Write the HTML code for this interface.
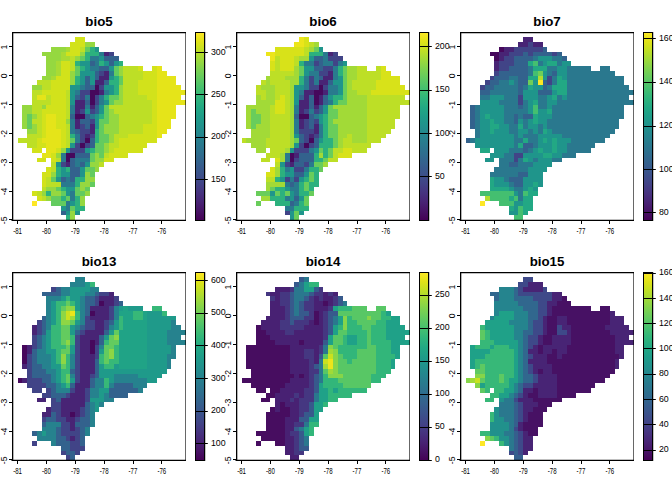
<!DOCTYPE html><html><head><meta charset="utf-8"><style>html,body{margin:0;padding:0;background:#fff;}svg{display:block;}text{font-family:"Liberation Sans",Arial,sans-serif;}</style></head><body>
<svg width="672" height="480" viewBox="0 0 672 480">
<rect width="672" height="480" fill="#fff"/>
<defs><linearGradient id="vg" x1="0" y1="0" x2="0" y2="1"><stop offset="0.000" stop-color="#fde725"/><stop offset="0.050" stop-color="#dfe318"/><stop offset="0.100" stop-color="#bddf26"/><stop offset="0.150" stop-color="#9bd93c"/><stop offset="0.200" stop-color="#7ad151"/><stop offset="0.250" stop-color="#5ec962"/><stop offset="0.300" stop-color="#44bf70"/><stop offset="0.350" stop-color="#2fb47c"/><stop offset="0.400" stop-color="#22a884"/><stop offset="0.450" stop-color="#1e9c89"/><stop offset="0.500" stop-color="#21918c"/><stop offset="0.550" stop-color="#25848e"/><stop offset="0.600" stop-color="#2a788e"/><stop offset="0.650" stop-color="#2f6c8e"/><stop offset="0.700" stop-color="#355f8d"/><stop offset="0.750" stop-color="#3b528b"/><stop offset="0.800" stop-color="#414487"/><stop offset="0.850" stop-color="#463480"/><stop offset="0.900" stop-color="#482475"/><stop offset="0.950" stop-color="#471365"/><stop offset="1.000" stop-color="#440154"/></linearGradient></defs>
<g transform="translate(0,0)">
<path fill="#d2e21b" d="M75 37h5v5h-5zM80 37h5v5h-5zM70 42h5v5h-5zM75 42h5v5h-5zM80 42h5v5h-5zM70 47h5v5h-5zM75 47h5v5h-5zM66 52h4v4h-4zM70 52h5v4h-5zM75 52h5v4h-5zM61 61h5v5h-5zM66 61h4v5h-4zM61 66h5v5h-5zM66 66h4v5h-4zM138 66h5v5h-5zM152 66h5v5h-5zM61 71h5v5h-5zM66 71h4v5h-4zM143 71h4v5h-4zM147 71h5v5h-5zM152 71h5v5h-5zM56 76h5v4h-5zM61 76h5v4h-5zM66 76h4v4h-4zM143 76h4v4h-4zM147 76h5v4h-5zM152 76h5v4h-5zM51 80h5v5h-5zM56 80h5v5h-5zM61 80h5v5h-5zM66 80h4v5h-4zM138 80h5v5h-5zM143 80h4v5h-4zM147 80h5v5h-5zM152 80h5v5h-5zM51 85h5v5h-5zM56 85h5v5h-5zM61 85h5v5h-5zM66 85h4v5h-4zM138 85h5v5h-5zM143 85h4v5h-4zM147 85h5v5h-5zM152 85h5v5h-5zM42 90h4v5h-4zM46 90h5v5h-5zM51 90h5v5h-5zM56 90h5v5h-5zM61 90h5v5h-5zM138 90h5v5h-5zM143 90h4v5h-4zM147 90h5v5h-5zM152 90h5v5h-5zM51 95h5v5h-5zM56 95h5v5h-5zM61 95h5v5h-5zM147 95h5v5h-5zM152 95h5v5h-5zM51 100h5v5h-5zM56 100h5v5h-5zM61 100h5v5h-5zM152 100h5v5h-5zM46 105h5v4h-5zM51 105h5v4h-5zM56 105h5v4h-5zM61 105h5v4h-5zM152 105h5v4h-5zM42 109h4v5h-4zM46 109h5v5h-5zM51 109h5v5h-5zM56 109h5v5h-5zM61 109h5v5h-5zM152 109h5v5h-5zM42 114h4v5h-4zM56 114h5v5h-5zM61 114h5v5h-5zM152 114h5v5h-5zM42 119h4v5h-4zM56 119h5v5h-5zM61 119h5v5h-5zM152 119h5v5h-5zM42 124h4v5h-4zM56 124h5v5h-5zM61 124h5v5h-5zM143 124h4v5h-4zM147 124h5v5h-5zM152 124h5v5h-5zM42 129h4v5h-4zM61 129h5v5h-5zM143 129h4v5h-4zM147 129h5v5h-5zM152 129h5v5h-5zM42 134h4v4h-4zM61 134h5v4h-5zM128 134h5v4h-5zM133 134h5v4h-5zM138 134h5v4h-5zM143 134h4v4h-4zM147 134h5v4h-5zM152 134h5v4h-5zM37 138h5v5h-5zM61 138h5v5h-5zM119 138h4v5h-4zM123 138h5v5h-5zM128 138h5v5h-5zM133 138h5v5h-5zM138 138h5v5h-5zM143 138h4v5h-4zM147 138h5v5h-5zM152 138h5v5h-5zM37 143h5v5h-5zM42 143h4v5h-4zM61 143h5v5h-5zM119 143h4v5h-4zM123 143h5v5h-5zM128 143h5v5h-5zM133 143h5v5h-5zM138 143h5v5h-5zM143 143h4v5h-4zM32 148h5v5h-5zM37 148h5v5h-5zM56 148h5v5h-5zM114 148h5v5h-5zM119 148h4v5h-4zM123 148h5v5h-5zM128 148h5v5h-5zM133 148h5v5h-5zM138 148h5v5h-5zM51 153h5v5h-5zM109 153h5v5h-5zM114 153h5v5h-5zM119 153h4v5h-4zM123 153h5v5h-5zM37 158h5v4h-5zM42 158h4v4h-4zM51 158h5v4h-5zM104 158h5v4h-5zM109 158h5v4h-5zM46 167h5v5h-5zM42 172h4v5h-4zM46 172h5v5h-5zM42 177h4v5h-4zM42 182h4v5h-4zM32 191h5v5h-5zM37 196h5v5h-5z"/>
<path fill="#95d840" d="M85 42h5v5h-5zM90 42h5v5h-5zM51 47h5v5h-5zM56 47h5v5h-5zM61 47h5v5h-5zM42 52h4v4h-4zM46 52h5v4h-5zM51 52h5v4h-5zM56 52h5v4h-5zM80 52h5v4h-5zM46 56h5v5h-5zM51 56h5v5h-5zM56 56h5v5h-5zM75 56h5v5h-5zM46 61h5v5h-5zM51 61h5v5h-5zM46 66h5v5h-5zM51 66h5v5h-5zM119 66h4v5h-4zM46 71h5v5h-5zM51 71h5v5h-5zM70 71h5v5h-5zM119 71h4v5h-4zM42 76h4v4h-4zM46 76h5v4h-5zM70 76h5v4h-5zM70 80h5v5h-5zM32 85h5v5h-5zM37 85h5v5h-5zM119 85h4v5h-4zM119 90h4v5h-4zM119 95h4v5h-4zM114 100h5v5h-5zM119 100h4v5h-4zM22 105h5v4h-5zM27 105h5v4h-5zM42 105h4v4h-4zM22 109h5v5h-5zM27 109h5v5h-5zM109 109h5v5h-5zM22 114h5v5h-5zM32 114h5v5h-5zM109 114h5v5h-5zM114 114h5v5h-5zM22 119h5v5h-5zM66 119h4v5h-4zM109 119h5v5h-5zM114 119h5v5h-5zM22 124h5v5h-5zM32 124h5v5h-5zM104 124h5v5h-5zM109 124h5v5h-5zM114 124h5v5h-5zM27 129h5v5h-5zM32 129h5v5h-5zM104 129h5v5h-5zM109 129h5v5h-5zM114 129h5v5h-5zM109 134h5v4h-5zM109 138h5v5h-5zM104 143h5v5h-5zM61 148h5v5h-5zM104 148h5v5h-5zM56 153h5v5h-5zM95 153h4v5h-4zM95 158h4v4h-4zM99 158h5v4h-5zM90 162h5v5h-5zM95 162h4v5h-4zM95 167h4v5h-4zM51 172h5v5h-5zM85 172h5v5h-5zM85 177h5v5h-5zM90 177h5v5h-5zM80 182h5v5h-5zM85 182h5v5h-5zM46 187h5v4h-5zM51 187h5v4h-5zM80 187h5v4h-5zM42 191h4v5h-4zM51 191h5v5h-5zM56 191h5v5h-5zM85 191h5v5h-5zM46 196h5v5h-5zM80 196h5v5h-5zM80 201h5v5h-5zM70 211h5v4h-5zM70 215h5v5h-5z"/>
<path fill="#a8db34" d="M66 47h4v5h-4zM61 52h5v4h-5zM61 56h5v5h-5zM66 56h4v5h-4zM56 61h5v5h-5zM56 66h5v5h-5zM56 71h5v5h-5zM51 76h5v4h-5z"/>
<path fill="#bddf26" d="M80 47h5v5h-5zM70 56h5v5h-5zM70 61h5v5h-5zM70 66h5v5h-5zM123 66h5v5h-5zM128 66h5v5h-5zM133 66h5v5h-5zM123 71h5v5h-5zM128 71h5v5h-5zM133 71h5v5h-5zM138 71h5v5h-5zM123 76h5v4h-5zM128 76h5v4h-5zM133 76h5v4h-5zM138 76h5v4h-5zM37 80h5v5h-5zM42 80h4v5h-4zM46 80h5v5h-5zM123 80h5v5h-5zM128 80h5v5h-5zM133 80h5v5h-5zM42 85h4v5h-4zM46 85h5v5h-5zM123 85h5v5h-5zM128 85h5v5h-5zM133 85h5v5h-5zM32 90h5v5h-5zM37 90h5v5h-5zM66 90h4v5h-4zM123 90h5v5h-5zM128 90h5v5h-5zM133 90h5v5h-5zM32 95h5v5h-5zM46 95h5v5h-5zM66 95h4v5h-4zM123 95h5v5h-5zM128 95h5v5h-5zM133 95h5v5h-5zM138 95h5v5h-5zM143 95h4v5h-4zM32 100h5v5h-5zM37 100h5v5h-5zM42 100h4v5h-4zM46 100h5v5h-5zM66 100h4v5h-4zM123 100h5v5h-5zM128 100h5v5h-5zM133 100h5v5h-5zM138 100h5v5h-5zM143 100h4v5h-4zM147 100h5v5h-5zM32 105h5v4h-5zM37 105h5v4h-5zM66 105h4v4h-4zM109 105h5v4h-5zM114 105h5v4h-5zM119 105h4v4h-4zM123 105h5v4h-5zM128 105h5v4h-5zM133 105h5v4h-5zM138 105h5v4h-5zM143 105h4v4h-4zM147 105h5v4h-5zM32 109h5v5h-5zM37 109h5v5h-5zM66 109h4v5h-4zM114 109h5v5h-5zM119 109h4v5h-4zM123 109h5v5h-5zM128 109h5v5h-5zM133 109h5v5h-5zM138 109h5v5h-5zM143 109h4v5h-4zM147 109h5v5h-5zM37 114h5v5h-5zM66 114h4v5h-4zM119 114h4v5h-4zM123 114h5v5h-5zM128 114h5v5h-5zM133 114h5v5h-5zM138 114h5v5h-5zM143 114h4v5h-4zM147 114h5v5h-5zM32 119h5v5h-5zM37 119h5v5h-5zM119 119h4v5h-4zM123 119h5v5h-5zM128 119h5v5h-5zM133 119h5v5h-5zM138 119h5v5h-5zM143 119h4v5h-4zM147 119h5v5h-5zM37 124h5v5h-5zM66 124h4v5h-4zM119 124h4v5h-4zM123 124h5v5h-5zM128 124h5v5h-5zM133 124h5v5h-5zM138 124h5v5h-5zM37 129h5v5h-5zM66 129h4v5h-4zM119 129h4v5h-4zM123 129h5v5h-5zM128 129h5v5h-5zM133 129h5v5h-5zM138 129h5v5h-5zM27 134h5v4h-5zM32 134h5v4h-5zM37 134h5v4h-5zM66 134h4v4h-4zM114 134h5v4h-5zM119 134h4v4h-4zM123 134h5v4h-5zM18 138h4v5h-4zM22 138h5v5h-5zM27 138h5v5h-5zM32 138h5v5h-5zM66 138h4v5h-4zM114 138h5v5h-5zM27 143h5v5h-5zM32 143h5v5h-5zM66 143h4v5h-4zM109 143h5v5h-5zM114 143h5v5h-5zM109 148h5v5h-5zM104 153h5v5h-5zM56 158h5v4h-5zM51 162h5v5h-5zM99 162h5v5h-5zM51 167h5v5h-5zM46 177h5v5h-5zM46 182h5v5h-5zM51 182h5v5h-5zM56 182h5v5h-5zM42 187h4v4h-4zM37 191h5v5h-5zM42 196h4v5h-4z"/>
<path fill="#63cb5f" d="M85 47h5v5h-5zM80 56h5v5h-5zM75 66h5v5h-5zM114 66h5v5h-5zM75 71h5v5h-5zM114 71h5v5h-5zM119 76h4v4h-4zM119 80h4v5h-4zM109 95h5v5h-5zM114 95h5v5h-5zM109 100h5v5h-5zM104 105h5v4h-5zM104 109h5v5h-5zM27 114h5v5h-5zM104 114h5v5h-5zM27 119h5v5h-5zM99 119h5v5h-5zM104 119h5v5h-5zM27 124h5v5h-5zM99 124h5v5h-5zM99 129h5v5h-5zM99 134h5v4h-5zM104 134h5v4h-5zM70 138h5v5h-5zM99 138h5v5h-5zM104 138h5v5h-5zM95 143h4v5h-4zM99 143h5v5h-5zM95 148h4v5h-4zM99 148h5v5h-5zM90 153h5v5h-5zM99 153h5v5h-5zM90 158h5v4h-5zM85 167h5v5h-5zM90 167h5v5h-5zM90 172h5v5h-5zM51 177h5v5h-5zM90 182h5v5h-5zM56 187h5v4h-5zM75 187h5v4h-5zM85 187h5v4h-5zM61 191h5v5h-5zM75 191h5v5h-5zM80 191h5v5h-5zM51 196h5v5h-5zM56 196h5v5h-5zM66 196h4v5h-4zM51 201h5v5h-5zM56 201h5v5h-5zM61 201h5v5h-5zM70 206h5v5h-5z"/>
<path fill="#2cb17e" d="M90 47h5v5h-5zM85 52h5v4h-5zM90 52h5v4h-5zM95 52h4v4h-4zM85 56h5v5h-5zM75 61h5v5h-5zM99 61h5v5h-5zM119 61h4v5h-4zM80 66h5v5h-5zM75 76h5v4h-5zM114 76h5v4h-5zM75 80h5v5h-5zM109 80h5v5h-5zM114 80h5v5h-5zM114 85h5v5h-5zM114 90h5v5h-5zM104 95h5v5h-5zM99 114h5v5h-5zM95 129h4v5h-4zM70 134h5v4h-5zM95 134h4v4h-4zM95 138h4v5h-4zM90 148h5v5h-5zM56 167h5v5h-5zM66 167h4v5h-4zM56 172h5v5h-5zM75 177h5v5h-5zM80 177h5v5h-5zM75 182h5v5h-5zM61 187h5v4h-5zM46 191h5v5h-5zM61 196h5v5h-5zM75 196h5v5h-5zM75 201h5v5h-5zM75 206h5v5h-5zM80 206h5v5h-5zM66 215h4v5h-4z"/>
<path fill="#1f958b" d="M95 47h4v5h-4zM99 56h5v5h-5zM80 61h5v5h-5zM85 61h5v5h-5zM104 61h5v5h-5zM114 61h5v5h-5zM85 66h5v5h-5zM109 66h5v5h-5zM80 71h5v5h-5zM85 71h5v5h-5zM90 71h5v5h-5zM80 76h5v4h-5zM90 76h5v4h-5zM109 76h5v4h-5zM80 80h5v5h-5zM90 80h5v5h-5zM70 85h5v5h-5zM75 85h5v5h-5zM104 85h5v5h-5zM109 85h5v5h-5zM70 90h5v5h-5zM109 90h5v5h-5zM70 95h5v5h-5zM70 100h5v5h-5zM104 100h5v5h-5zM99 105h5v4h-5zM85 109h5v5h-5zM99 109h5v5h-5zM95 114h4v5h-4zM95 119h4v5h-4zM95 124h4v5h-4zM70 143h5v5h-5zM66 148h4v5h-4zM85 148h5v5h-5zM56 162h5v5h-5zM85 162h5v5h-5zM61 167h5v5h-5zM80 167h5v5h-5zM61 172h5v5h-5zM66 172h4v5h-4zM80 172h5v5h-5zM56 177h5v5h-5zM66 187h4v4h-4zM70 187h5v4h-5zM66 191h4v5h-4zM70 201h5v5h-5zM61 206h5v5h-5zM66 211h4v4h-4zM75 211h5v4h-5z"/>
<path fill="#297a8e" d="M99 52h5v4h-5zM90 56h5v5h-5zM95 56h4v5h-4zM95 61h4v5h-4zM90 66h5v5h-5zM95 66h4v5h-4zM109 71h5v5h-5zM80 85h5v5h-5zM75 90h5v5h-5zM104 90h5v5h-5zM85 95h5v5h-5zM99 95h5v5h-5zM99 100h5v5h-5zM70 105h5v4h-5zM85 105h5v4h-5zM70 109h5v5h-5zM90 114h5v5h-5zM70 119h5v5h-5zM70 124h5v5h-5zM70 129h5v5h-5zM75 134h5v4h-5zM75 138h5v5h-5zM61 153h5v5h-5zM61 158h5v4h-5zM75 158h5v4h-5zM80 158h5v4h-5zM85 158h5v4h-5zM75 162h5v5h-5zM66 177h4v5h-4zM61 182h5v5h-5zM66 182h4v5h-4zM70 182h5v5h-5zM70 191h5v5h-5zM70 196h5v5h-5zM66 201h4v5h-4zM66 206h4v5h-4z"/>
<path fill="#482475" d="M104 52h5v4h-5zM104 71h5v5h-5zM99 76h5v4h-5zM104 76h5v4h-5zM95 80h4v5h-4zM99 80h5v5h-5zM99 90h5v5h-5zM75 100h5v5h-5zM80 100h5v5h-5zM75 105h5v4h-5zM80 105h5v4h-5zM90 105h5v4h-5zM75 109h5v5h-5zM75 119h5v5h-5zM75 124h5v5h-5zM90 124h5v5h-5zM90 129h5v5h-5zM85 134h5v4h-5zM66 162h4v5h-4z"/>
<path fill="#414487" d="M109 52h5v4h-5zM99 71h5v5h-5zM99 85h5v5h-5zM80 90h5v5h-5zM85 90h5v5h-5zM80 95h5v5h-5zM95 95h4v5h-4zM95 100h4v5h-4zM80 109h5v5h-5zM90 109h5v5h-5zM90 119h5v5h-5zM80 124h5v5h-5zM80 129h5v5h-5zM85 129h5v5h-5zM80 134h5v4h-5zM90 134h5v4h-5zM80 138h5v5h-5zM75 143h5v5h-5zM85 143h5v5h-5zM70 148h5v5h-5zM75 148h5v5h-5zM80 148h5v5h-5zM61 162h5v5h-5z"/>
<path fill="#33628d" d="M104 56h5v5h-5zM109 56h5v5h-5zM114 56h5v5h-5zM90 61h5v5h-5zM109 61h5v5h-5zM99 66h5v5h-5zM104 66h5v5h-5zM95 71h4v5h-4zM85 76h5v4h-5zM95 76h4v4h-4zM85 80h5v5h-5zM104 80h5v5h-5zM85 85h5v5h-5zM90 85h5v5h-5zM75 95h5v5h-5zM85 100h5v5h-5zM95 105h4v4h-4zM95 109h4v5h-4zM70 114h5v5h-5zM85 114h5v5h-5zM80 119h5v5h-5zM85 119h5v5h-5zM85 124h5v5h-5zM75 129h5v5h-5zM90 138h5v5h-5zM90 143h5v5h-5zM75 153h5v5h-5zM80 153h5v5h-5zM85 153h5v5h-5zM70 158h5v4h-5zM70 162h5v5h-5zM80 162h5v5h-5zM70 167h5v5h-5zM75 167h5v5h-5zM70 172h5v5h-5zM75 172h5v5h-5zM61 177h5v5h-5zM70 177h5v5h-5zM61 211h5v4h-5z"/>
<path fill="#e5e419" d="M157 66h5v5h-5zM157 71h5v5h-5zM162 71h5v5h-5zM157 76h5v4h-5zM162 76h5v4h-5zM167 76h4v4h-4zM171 76h5v4h-5zM157 80h5v5h-5zM162 80h5v5h-5zM167 80h4v5h-4zM171 80h5v5h-5zM157 85h5v5h-5zM162 85h5v5h-5zM167 85h4v5h-4zM171 85h5v5h-5zM176 85h5v5h-5zM157 90h5v5h-5zM162 90h5v5h-5zM167 90h4v5h-4zM171 90h5v5h-5zM176 90h5v5h-5zM181 90h5v5h-5zM37 95h5v5h-5zM42 95h4v5h-4zM157 95h5v5h-5zM162 95h5v5h-5zM167 95h4v5h-4zM171 95h5v5h-5zM176 95h5v5h-5zM157 100h5v5h-5zM162 100h5v5h-5zM167 100h4v5h-4zM171 100h5v5h-5zM176 100h5v5h-5zM181 100h5v5h-5zM157 105h5v4h-5zM162 105h5v4h-5zM167 105h4v4h-4zM171 105h5v4h-5zM157 109h5v5h-5zM162 109h5v5h-5zM167 109h4v5h-4zM171 109h5v5h-5zM46 114h5v5h-5zM51 114h5v5h-5zM157 114h5v5h-5zM162 114h5v5h-5zM167 114h4v5h-4zM171 114h5v5h-5zM46 119h5v5h-5zM51 119h5v5h-5zM157 119h5v5h-5zM162 119h5v5h-5zM167 119h4v5h-4zM46 124h5v5h-5zM51 124h5v5h-5zM157 124h5v5h-5zM162 124h5v5h-5zM167 124h4v5h-4zM46 129h5v5h-5zM51 129h5v5h-5zM56 129h5v5h-5zM157 129h5v5h-5zM162 129h5v5h-5zM46 134h5v4h-5zM51 134h5v4h-5zM56 134h5v4h-5zM157 134h5v4h-5zM42 138h4v5h-4zM46 138h5v5h-5zM51 138h5v5h-5zM56 138h5v5h-5zM46 143h5v5h-5zM51 143h5v5h-5zM56 143h5v5h-5zM46 148h5v5h-5zM51 148h5v5h-5zM42 153h4v5h-4zM46 153h5v5h-5z"/>
<path fill="#46085c" d="M95 85h4v5h-4zM90 90h5v5h-5zM95 90h4v5h-4zM90 95h5v5h-5zM90 100h5v5h-5zM75 114h5v5h-5zM80 114h5v5h-5zM85 138h5v5h-5zM80 143h5v5h-5zM66 153h4v5h-4zM70 153h5v5h-5zM66 158h4v4h-4z"/>
<path fill="#fde725" d="M32 201h5v5h-5z"/>
<path d="M12.65 32 V221 M12 32.65 H186 M11.5 220.35 H186" stroke="#000" stroke-width="1.3" fill="none"/>
<path d="M185.5 32 V221" stroke="#000" stroke-width="0.6" fill="none"/>
<text x="99" y="25.6" font-size="13.3" font-weight="bold" text-anchor="middle">bio5</text>
<line x1="17.50" y1="220.5" x2="17.50" y2="224" stroke="#000" stroke-width="1"/>
<text x="17.60" y="233.7" font-size="8.4" text-anchor="middle" textLength="8.8" lengthAdjust="spacingAndGlyphs">-81</text>
<line x1="46.50" y1="220.5" x2="46.50" y2="224" stroke="#000" stroke-width="1"/>
<text x="46.45" y="233.7" font-size="8.4" text-anchor="middle" textLength="8.8" lengthAdjust="spacingAndGlyphs">-80</text>
<line x1="75.50" y1="220.5" x2="75.50" y2="224" stroke="#000" stroke-width="1"/>
<text x="75.30" y="233.7" font-size="8.4" text-anchor="middle" textLength="8.8" lengthAdjust="spacingAndGlyphs">-79</text>
<line x1="104.50" y1="220.5" x2="104.50" y2="224" stroke="#000" stroke-width="1"/>
<text x="104.15" y="233.7" font-size="8.4" text-anchor="middle" textLength="8.8" lengthAdjust="spacingAndGlyphs">-78</text>
<line x1="133.50" y1="220.5" x2="133.50" y2="224" stroke="#000" stroke-width="1"/>
<text x="133.00" y="233.7" font-size="8.4" text-anchor="middle" textLength="8.8" lengthAdjust="spacingAndGlyphs">-77</text>
<line x1="161.50" y1="220.5" x2="161.50" y2="224" stroke="#000" stroke-width="1"/>
<text x="161.85" y="233.7" font-size="8.4" text-anchor="middle" textLength="8.8" lengthAdjust="spacingAndGlyphs">-76</text>
<line x1="9" y1="46.50" x2="12.5" y2="46.50" stroke="#000" stroke-width="1"/>
<text transform="translate(7.1,47.00) rotate(-90)" font-size="8.6" text-anchor="middle">1</text>
<line x1="9" y1="75.50" x2="12.5" y2="75.50" stroke="#000" stroke-width="1"/>
<text transform="translate(7.1,75.90) rotate(-90)" font-size="8.6" text-anchor="middle">0</text>
<line x1="9" y1="104.50" x2="12.5" y2="104.50" stroke="#000" stroke-width="1"/>
<text transform="translate(7.1,104.80) rotate(-90)" font-size="8.6" text-anchor="middle">-1</text>
<line x1="9" y1="133.50" x2="12.5" y2="133.50" stroke="#000" stroke-width="1"/>
<text transform="translate(7.1,133.70) rotate(-90)" font-size="8.6" text-anchor="middle">-2</text>
<line x1="9" y1="162.50" x2="12.5" y2="162.50" stroke="#000" stroke-width="1"/>
<text transform="translate(7.1,162.60) rotate(-90)" font-size="8.6" text-anchor="middle">-3</text>
<line x1="9" y1="191.50" x2="12.5" y2="191.50" stroke="#000" stroke-width="1"/>
<text transform="translate(7.1,191.50) rotate(-90)" font-size="8.6" text-anchor="middle">-4</text>
<line x1="9" y1="219.50" x2="12.5" y2="219.50" stroke="#000" stroke-width="1"/>
<text transform="translate(7.1,220.40) rotate(-90)" font-size="8.6" text-anchor="middle">-5</text>
<rect x="195.5" y="32.5" width="9" height="188" fill="url(#vg)" stroke="#000" stroke-width="1"/>
<path d="M205.3 32 V221" stroke="#000" stroke-width="0.5" opacity="0.6" fill="none"/>
<line x1="195.5" y1="52.50" x2="207.8" y2="52.50" stroke="#000" stroke-width="1"/>
<text x="210.9" y="54.60" font-size="8.8">300</text>
<line x1="195.5" y1="94.50" x2="207.8" y2="94.50" stroke="#000" stroke-width="1"/>
<text x="210.9" y="96.90" font-size="8.8">250</text>
<line x1="195.5" y1="137.50" x2="207.8" y2="137.50" stroke="#000" stroke-width="1"/>
<text x="210.9" y="139.30" font-size="8.8">200</text>
<line x1="195.5" y1="179.50" x2="207.8" y2="179.50" stroke="#000" stroke-width="1"/>
<text x="210.9" y="181.50" font-size="8.8">150</text>
</g>
<g transform="translate(224,0)">
<path fill="#ece51b" d="M75 37h5v5h-5zM70 42h5v5h-5zM75 42h5v5h-5zM42 52h4v4h-4zM46 52h5v4h-5zM46 56h5v5h-5z"/>
<path fill="#d8e219" d="M80 37h5v5h-5zM80 42h5v5h-5zM51 47h5v5h-5zM56 47h5v5h-5zM61 47h5v5h-5zM66 47h4v5h-4zM70 47h5v5h-5zM75 47h5v5h-5zM51 52h5v4h-5zM56 52h5v4h-5zM61 52h5v4h-5zM66 52h4v4h-4zM70 52h5v4h-5zM75 52h5v4h-5zM56 56h5v5h-5zM61 56h5v5h-5zM66 56h4v5h-4zM46 61h5v5h-5zM56 61h5v5h-5zM61 61h5v5h-5zM66 61h4v5h-4zM46 66h5v5h-5zM56 66h5v5h-5zM61 66h5v5h-5zM66 66h4v5h-4zM157 66h5v5h-5zM157 71h5v5h-5zM162 71h5v5h-5zM157 76h5v4h-5zM162 76h5v4h-5zM167 76h4v4h-4zM171 76h5v4h-5zM152 80h5v5h-5zM157 80h5v5h-5zM162 80h5v5h-5zM167 80h4v5h-4zM171 80h5v5h-5zM152 85h5v5h-5zM157 85h5v5h-5zM162 85h5v5h-5zM167 85h4v5h-4zM171 85h5v5h-5zM176 85h5v5h-5zM147 90h5v5h-5zM152 90h5v5h-5zM157 90h5v5h-5zM162 90h5v5h-5zM167 90h4v5h-4zM171 90h5v5h-5zM176 90h5v5h-5zM181 90h5v5h-5zM56 95h5v5h-5zM51 100h5v5h-5zM56 100h5v5h-5zM51 105h5v4h-5zM56 105h5v4h-5zM51 109h5v5h-5zM56 109h5v5h-5zM119 148h4v5h-4zM123 148h5v5h-5zM114 153h5v5h-5zM119 153h4v5h-4zM123 153h5v5h-5zM51 158h5v4h-5zM46 167h5v5h-5zM42 172h4v5h-4zM46 172h5v5h-5z"/>
<path fill="#bddf26" d="M85 42h5v5h-5zM80 47h5v5h-5zM80 52h5v4h-5zM51 56h5v5h-5zM70 56h5v5h-5zM51 61h5v5h-5zM70 61h5v5h-5zM51 66h5v5h-5zM133 66h5v5h-5zM138 66h5v5h-5zM152 66h5v5h-5zM46 71h5v5h-5zM51 71h5v5h-5zM56 71h5v5h-5zM61 71h5v5h-5zM66 71h4v5h-4zM133 71h5v5h-5zM138 71h5v5h-5zM143 71h4v5h-4zM147 71h5v5h-5zM152 71h5v5h-5zM46 76h5v4h-5zM51 76h5v4h-5zM56 76h5v4h-5zM133 76h5v4h-5zM138 76h5v4h-5zM143 76h4v4h-4zM147 76h5v4h-5zM152 76h5v4h-5zM37 80h5v5h-5zM46 80h5v5h-5zM51 80h5v5h-5zM56 80h5v5h-5zM61 80h5v5h-5zM128 80h5v5h-5zM133 80h5v5h-5zM138 80h5v5h-5zM143 80h4v5h-4zM147 80h5v5h-5zM32 85h5v5h-5zM51 85h5v5h-5zM56 85h5v5h-5zM61 85h5v5h-5zM128 85h5v5h-5zM133 85h5v5h-5zM138 85h5v5h-5zM143 85h4v5h-4zM147 85h5v5h-5zM32 90h5v5h-5zM37 90h5v5h-5zM51 90h5v5h-5zM56 90h5v5h-5zM61 90h5v5h-5zM133 90h5v5h-5zM138 90h5v5h-5zM143 90h4v5h-4zM37 95h5v5h-5zM51 95h5v5h-5zM61 95h5v5h-5zM143 95h4v5h-4zM147 95h5v5h-5zM152 95h5v5h-5zM157 95h5v5h-5zM162 95h5v5h-5zM167 95h4v5h-4zM171 95h5v5h-5zM176 95h5v5h-5zM61 100h5v5h-5zM143 100h4v5h-4zM147 100h5v5h-5zM152 100h5v5h-5zM157 100h5v5h-5zM162 100h5v5h-5zM167 100h4v5h-4zM171 100h5v5h-5zM176 100h5v5h-5zM181 100h5v5h-5zM46 105h5v4h-5zM61 105h5v4h-5zM143 105h4v4h-4zM147 105h5v4h-5zM152 105h5v4h-5zM157 105h5v4h-5zM162 105h5v4h-5zM167 105h4v4h-4zM171 105h5v4h-5zM46 109h5v5h-5zM61 109h5v5h-5zM143 109h4v5h-4zM147 109h5v5h-5zM152 109h5v5h-5zM157 109h5v5h-5zM162 109h5v5h-5zM167 109h4v5h-4zM171 109h5v5h-5zM46 114h5v5h-5zM51 114h5v5h-5zM56 114h5v5h-5zM61 114h5v5h-5zM143 114h4v5h-4zM147 114h5v5h-5zM152 114h5v5h-5zM157 114h5v5h-5zM162 114h5v5h-5zM167 114h4v5h-4zM171 114h5v5h-5zM46 119h5v5h-5zM51 119h5v5h-5zM56 119h5v5h-5zM61 119h5v5h-5zM143 119h4v5h-4zM147 119h5v5h-5zM152 119h5v5h-5zM157 119h5v5h-5zM162 119h5v5h-5zM167 119h4v5h-4zM46 124h5v5h-5zM51 124h5v5h-5zM56 124h5v5h-5zM61 124h5v5h-5zM143 124h4v5h-4zM147 124h5v5h-5zM152 124h5v5h-5zM157 124h5v5h-5zM162 124h5v5h-5zM167 124h4v5h-4zM46 129h5v5h-5zM51 129h5v5h-5zM56 129h5v5h-5zM61 129h5v5h-5zM143 129h4v5h-4zM147 129h5v5h-5zM152 129h5v5h-5zM157 129h5v5h-5zM162 129h5v5h-5zM46 134h5v4h-5zM51 134h5v4h-5zM56 134h5v4h-5zM61 134h5v4h-5zM123 134h5v4h-5zM143 134h4v4h-4zM147 134h5v4h-5zM152 134h5v4h-5zM157 134h5v4h-5zM18 138h4v5h-4zM42 138h4v5h-4zM46 138h5v5h-5zM51 138h5v5h-5zM56 138h5v5h-5zM61 138h5v5h-5zM119 138h4v5h-4zM123 138h5v5h-5zM143 138h4v5h-4zM147 138h5v5h-5zM152 138h5v5h-5zM42 143h4v5h-4zM46 143h5v5h-5zM51 143h5v5h-5zM56 143h5v5h-5zM61 143h5v5h-5zM119 143h4v5h-4zM123 143h5v5h-5zM128 143h5v5h-5zM133 143h5v5h-5zM138 143h5v5h-5zM143 143h4v5h-4zM46 148h5v5h-5zM51 148h5v5h-5zM56 148h5v5h-5zM109 148h5v5h-5zM114 148h5v5h-5zM128 148h5v5h-5zM133 148h5v5h-5zM138 148h5v5h-5zM42 153h4v5h-4zM46 153h5v5h-5zM51 153h5v5h-5zM109 153h5v5h-5zM37 158h5v4h-5zM42 158h4v4h-4zM104 158h5v4h-5zM109 158h5v4h-5zM51 162h5v5h-5zM42 177h4v5h-4zM46 177h5v5h-5z"/>
<path fill="#a2da37" d="M90 42h5v5h-5zM85 47h5v5h-5zM75 56h5v5h-5zM80 56h5v5h-5zM70 66h5v5h-5zM123 66h5v5h-5zM128 66h5v5h-5zM70 71h5v5h-5zM123 71h5v5h-5zM128 71h5v5h-5zM42 76h4v4h-4zM61 76h5v4h-5zM66 76h4v4h-4zM70 76h5v4h-5zM123 76h5v4h-5zM128 76h5v4h-5zM42 80h4v5h-4zM66 80h4v5h-4zM70 80h5v5h-5zM123 80h5v5h-5zM37 85h5v5h-5zM42 85h4v5h-4zM46 85h5v5h-5zM66 85h4v5h-4zM123 85h5v5h-5zM42 90h4v5h-4zM46 90h5v5h-5zM66 90h4v5h-4zM123 90h5v5h-5zM128 90h5v5h-5zM32 95h5v5h-5zM42 95h4v5h-4zM46 95h5v5h-5zM66 95h4v5h-4zM123 95h5v5h-5zM128 95h5v5h-5zM133 95h5v5h-5zM138 95h5v5h-5zM32 100h5v5h-5zM37 100h5v5h-5zM42 100h4v5h-4zM46 100h5v5h-5zM66 100h4v5h-4zM123 100h5v5h-5zM128 100h5v5h-5zM133 100h5v5h-5zM138 100h5v5h-5zM22 105h5v4h-5zM27 105h5v4h-5zM32 105h5v4h-5zM37 105h5v4h-5zM42 105h4v4h-4zM66 105h4v4h-4zM109 105h5v4h-5zM114 105h5v4h-5zM119 105h4v4h-4zM123 105h5v4h-5zM128 105h5v4h-5zM133 105h5v4h-5zM138 105h5v4h-5zM22 109h5v5h-5zM32 109h5v5h-5zM37 109h5v5h-5zM42 109h4v5h-4zM66 109h4v5h-4zM114 109h5v5h-5zM119 109h4v5h-4zM123 109h5v5h-5zM128 109h5v5h-5zM133 109h5v5h-5zM138 109h5v5h-5zM22 114h5v5h-5zM37 114h5v5h-5zM42 114h4v5h-4zM66 114h4v5h-4zM114 114h5v5h-5zM119 114h4v5h-4zM123 114h5v5h-5zM128 114h5v5h-5zM133 114h5v5h-5zM138 114h5v5h-5zM22 119h5v5h-5zM37 119h5v5h-5zM42 119h4v5h-4zM66 119h4v5h-4zM109 119h5v5h-5zM114 119h5v5h-5zM119 119h4v5h-4zM123 119h5v5h-5zM128 119h5v5h-5zM133 119h5v5h-5zM138 119h5v5h-5zM22 124h5v5h-5zM32 124h5v5h-5zM37 124h5v5h-5zM42 124h4v5h-4zM66 124h4v5h-4zM114 124h5v5h-5zM119 124h4v5h-4zM123 124h5v5h-5zM128 124h5v5h-5zM133 124h5v5h-5zM138 124h5v5h-5zM27 129h5v5h-5zM32 129h5v5h-5zM37 129h5v5h-5zM42 129h4v5h-4zM66 129h4v5h-4zM114 129h5v5h-5zM119 129h4v5h-4zM123 129h5v5h-5zM128 129h5v5h-5zM133 129h5v5h-5zM138 129h5v5h-5zM27 134h5v4h-5zM32 134h5v4h-5zM37 134h5v4h-5zM42 134h4v4h-4zM66 134h4v4h-4zM114 134h5v4h-5zM119 134h4v4h-4zM128 134h5v4h-5zM133 134h5v4h-5zM138 134h5v4h-5zM22 138h5v5h-5zM27 138h5v5h-5zM32 138h5v5h-5zM37 138h5v5h-5zM66 138h4v5h-4zM114 138h5v5h-5zM128 138h5v5h-5zM133 138h5v5h-5zM138 138h5v5h-5zM27 143h5v5h-5zM32 143h5v5h-5zM37 143h5v5h-5zM66 143h4v5h-4zM114 143h5v5h-5zM32 148h5v5h-5zM37 148h5v5h-5zM61 148h5v5h-5zM56 153h5v5h-5zM95 153h4v5h-4zM56 158h5v4h-5zM99 162h5v5h-5zM51 167h5v5h-5zM51 172h5v5h-5zM42 182h4v5h-4zM46 182h5v5h-5zM51 182h5v5h-5zM56 182h5v5h-5zM42 187h4v4h-4zM37 196h5v5h-5zM42 196h4v5h-4z"/>
<path fill="#69cd5b" d="M90 47h5v5h-5zM75 66h5v5h-5zM119 66h4v5h-4zM75 71h5v5h-5zM119 71h4v5h-4zM119 76h4v4h-4zM119 80h4v5h-4zM119 85h4v5h-4zM119 90h4v5h-4zM119 95h4v5h-4zM114 100h5v5h-5zM119 100h4v5h-4zM104 105h5v4h-5zM27 109h5v5h-5zM104 109h5v5h-5zM109 109h5v5h-5zM27 114h5v5h-5zM32 114h5v5h-5zM104 114h5v5h-5zM109 114h5v5h-5zM27 119h5v5h-5zM32 119h5v5h-5zM104 119h5v5h-5zM27 124h5v5h-5zM104 124h5v5h-5zM109 124h5v5h-5zM104 129h5v5h-5zM109 129h5v5h-5zM104 134h5v4h-5zM109 134h5v4h-5zM70 138h5v5h-5zM109 138h5v5h-5zM109 143h5v5h-5zM95 148h4v5h-4zM104 148h5v5h-5zM104 153h5v5h-5zM99 158h5v4h-5zM90 162h5v5h-5zM95 162h4v5h-4zM95 167h4v5h-4zM85 172h5v5h-5zM85 177h5v5h-5zM80 182h5v5h-5zM46 187h5v4h-5zM80 187h5v4h-5zM32 191h5v5h-5zM37 191h5v5h-5zM42 191h4v5h-4zM51 191h5v5h-5zM61 191h5v5h-5zM85 191h5v5h-5zM80 196h5v5h-5zM32 201h5v5h-5zM80 201h5v5h-5zM70 211h5v4h-5zM70 215h5v5h-5z"/>
<path fill="#1f958b" d="M95 47h4v5h-4zM85 56h5v5h-5zM119 61h4v5h-4zM80 66h5v5h-5zM85 66h5v5h-5zM80 71h5v5h-5zM114 76h5v4h-5zM109 80h5v5h-5zM114 80h5v5h-5zM70 85h5v5h-5zM75 85h5v5h-5zM114 85h5v5h-5zM70 90h5v5h-5zM114 90h5v5h-5zM70 95h5v5h-5zM104 95h5v5h-5zM70 100h5v5h-5zM99 105h5v4h-5zM99 109h5v5h-5zM95 114h4v5h-4zM95 119h4v5h-4zM70 134h5v4h-5zM95 138h4v5h-4zM70 143h5v5h-5zM66 148h4v5h-4zM90 148h5v5h-5zM56 162h5v5h-5zM66 167h4v5h-4zM61 172h5v5h-5zM66 172h4v5h-4zM80 172h5v5h-5zM56 177h5v5h-5zM75 177h5v5h-5zM61 187h5v4h-5zM46 191h5v5h-5zM66 191h4v5h-4zM66 196h4v5h-4zM75 196h5v5h-5zM66 211h4v4h-4zM75 211h5v4h-5zM66 215h4v5h-4z"/>
<path fill="#2cb17e" d="M85 52h5v4h-5zM90 52h5v4h-5zM95 52h4v4h-4zM75 61h5v5h-5zM114 66h5v5h-5zM114 71h5v5h-5zM75 76h5v4h-5zM75 80h5v5h-5zM109 95h5v5h-5zM114 95h5v5h-5zM109 100h5v5h-5zM99 114h5v5h-5zM99 119h5v5h-5zM99 124h5v5h-5zM99 129h5v5h-5zM99 134h5v4h-5zM99 138h5v5h-5zM104 138h5v5h-5zM95 143h4v5h-4zM99 143h5v5h-5zM104 143h5v5h-5zM99 148h5v5h-5zM90 153h5v5h-5zM99 153h5v5h-5zM90 158h5v4h-5zM95 158h4v4h-4zM56 167h5v5h-5zM85 167h5v5h-5zM90 167h5v5h-5zM56 172h5v5h-5zM90 172h5v5h-5zM51 177h5v5h-5zM80 177h5v5h-5zM90 177h5v5h-5zM75 182h5v5h-5zM85 182h5v5h-5zM90 182h5v5h-5zM51 187h5v4h-5zM56 187h5v4h-5zM75 187h5v4h-5zM85 187h5v4h-5zM56 191h5v5h-5zM75 191h5v5h-5zM80 191h5v5h-5zM46 196h5v5h-5zM51 196h5v5h-5zM56 196h5v5h-5zM51 201h5v5h-5zM56 201h5v5h-5zM61 201h5v5h-5zM75 201h5v5h-5zM70 206h5v5h-5zM75 206h5v5h-5zM80 206h5v5h-5z"/>
<path fill="#297a8e" d="M99 52h5v4h-5zM99 56h5v5h-5zM80 61h5v5h-5zM85 61h5v5h-5zM99 61h5v5h-5zM104 61h5v5h-5zM114 61h5v5h-5zM109 66h5v5h-5zM85 71h5v5h-5zM90 71h5v5h-5zM109 71h5v5h-5zM80 76h5v4h-5zM90 76h5v4h-5zM109 76h5v4h-5zM80 80h5v5h-5zM90 80h5v5h-5zM80 85h5v5h-5zM104 85h5v5h-5zM109 85h5v5h-5zM75 90h5v5h-5zM104 90h5v5h-5zM109 90h5v5h-5zM104 100h5v5h-5zM70 105h5v4h-5zM70 109h5v5h-5zM85 109h5v5h-5zM90 114h5v5h-5zM70 119h5v5h-5zM70 124h5v5h-5zM95 124h4v5h-4zM70 129h5v5h-5zM95 129h4v5h-4zM95 134h4v4h-4zM85 148h5v5h-5zM61 153h5v5h-5zM61 158h5v4h-5zM85 162h5v5h-5zM61 167h5v5h-5zM80 167h5v5h-5zM66 177h4v5h-4zM61 182h5v5h-5zM70 182h5v5h-5zM66 187h4v4h-4zM70 187h5v4h-5zM70 191h5v5h-5zM61 196h5v5h-5zM70 201h5v5h-5zM61 206h5v5h-5zM66 206h4v5h-4z"/>
<path fill="#482475" d="M104 52h5v4h-5zM104 71h5v5h-5zM99 76h5v4h-5zM104 76h5v4h-5zM95 80h4v5h-4zM99 80h5v5h-5zM80 90h5v5h-5zM85 90h5v5h-5zM99 90h5v5h-5zM80 95h5v5h-5zM95 95h4v5h-4zM75 100h5v5h-5zM80 100h5v5h-5zM95 100h4v5h-4zM75 105h5v4h-5zM80 105h5v4h-5zM90 105h5v4h-5zM75 109h5v5h-5zM75 119h5v5h-5zM75 124h5v5h-5zM90 124h5v5h-5zM90 129h5v5h-5zM85 134h5v4h-5zM70 153h5v5h-5zM66 162h4v5h-4z"/>
<path fill="#414487" d="M109 52h5v4h-5zM104 56h5v5h-5zM109 56h5v5h-5zM114 56h5v5h-5zM90 61h5v5h-5zM109 61h5v5h-5zM99 66h5v5h-5zM104 66h5v5h-5zM95 71h4v5h-4zM99 71h5v5h-5zM85 76h5v4h-5zM85 80h5v5h-5zM85 85h5v5h-5zM90 85h5v5h-5zM99 85h5v5h-5zM80 109h5v5h-5zM90 109h5v5h-5zM80 119h5v5h-5zM90 119h5v5h-5zM80 124h5v5h-5zM75 129h5v5h-5zM80 129h5v5h-5zM85 129h5v5h-5zM80 134h5v4h-5zM90 134h5v4h-5zM80 138h5v5h-5zM75 143h5v5h-5zM85 143h5v5h-5zM70 148h5v5h-5zM75 148h5v5h-5zM80 148h5v5h-5zM70 158h5v4h-5zM61 162h5v5h-5zM80 162h5v5h-5zM70 167h5v5h-5zM75 167h5v5h-5zM61 177h5v5h-5zM70 177h5v5h-5zM61 211h5v4h-5z"/>
<path fill="#33628d" d="M90 56h5v5h-5zM95 56h4v5h-4zM95 61h4v5h-4zM90 66h5v5h-5zM95 66h4v5h-4zM95 76h4v4h-4zM104 80h5v5h-5zM75 95h5v5h-5zM85 95h5v5h-5zM99 95h5v5h-5zM85 100h5v5h-5zM99 100h5v5h-5zM85 105h5v4h-5zM95 105h4v4h-4zM95 109h4v5h-4zM70 114h5v5h-5zM85 114h5v5h-5zM85 119h5v5h-5zM85 124h5v5h-5zM75 134h5v4h-5zM75 138h5v5h-5zM90 138h5v5h-5zM90 143h5v5h-5zM75 153h5v5h-5zM80 153h5v5h-5zM85 153h5v5h-5zM75 158h5v4h-5zM80 158h5v4h-5zM85 158h5v4h-5zM70 162h5v5h-5zM75 162h5v5h-5zM70 172h5v5h-5zM75 172h5v5h-5zM66 182h4v5h-4zM70 196h5v5h-5zM66 201h4v5h-4z"/>
<path fill="#46085c" d="M95 85h4v5h-4zM90 90h5v5h-5zM95 90h4v5h-4zM90 95h5v5h-5zM90 100h5v5h-5zM75 114h5v5h-5zM80 114h5v5h-5zM85 138h5v5h-5zM80 143h5v5h-5zM66 153h4v5h-4zM66 158h4v4h-4z"/>
<path d="M12.65 32 V221 M12 32.65 H186 M11.5 220.35 H186" stroke="#000" stroke-width="1.3" fill="none"/>
<path d="M185.5 32 V221" stroke="#000" stroke-width="0.6" fill="none"/>
<text x="99" y="25.6" font-size="13.3" font-weight="bold" text-anchor="middle">bio6</text>
<line x1="17.50" y1="220.5" x2="17.50" y2="224" stroke="#000" stroke-width="1"/>
<text x="17.60" y="233.7" font-size="8.4" text-anchor="middle" textLength="8.8" lengthAdjust="spacingAndGlyphs">-81</text>
<line x1="46.50" y1="220.5" x2="46.50" y2="224" stroke="#000" stroke-width="1"/>
<text x="46.45" y="233.7" font-size="8.4" text-anchor="middle" textLength="8.8" lengthAdjust="spacingAndGlyphs">-80</text>
<line x1="75.50" y1="220.5" x2="75.50" y2="224" stroke="#000" stroke-width="1"/>
<text x="75.30" y="233.7" font-size="8.4" text-anchor="middle" textLength="8.8" lengthAdjust="spacingAndGlyphs">-79</text>
<line x1="104.50" y1="220.5" x2="104.50" y2="224" stroke="#000" stroke-width="1"/>
<text x="104.15" y="233.7" font-size="8.4" text-anchor="middle" textLength="8.8" lengthAdjust="spacingAndGlyphs">-78</text>
<line x1="133.50" y1="220.5" x2="133.50" y2="224" stroke="#000" stroke-width="1"/>
<text x="133.00" y="233.7" font-size="8.4" text-anchor="middle" textLength="8.8" lengthAdjust="spacingAndGlyphs">-77</text>
<line x1="161.50" y1="220.5" x2="161.50" y2="224" stroke="#000" stroke-width="1"/>
<text x="161.85" y="233.7" font-size="8.4" text-anchor="middle" textLength="8.8" lengthAdjust="spacingAndGlyphs">-76</text>
<line x1="9" y1="46.50" x2="12.5" y2="46.50" stroke="#000" stroke-width="1"/>
<text transform="translate(7.1,47.00) rotate(-90)" font-size="8.6" text-anchor="middle">1</text>
<line x1="9" y1="75.50" x2="12.5" y2="75.50" stroke="#000" stroke-width="1"/>
<text transform="translate(7.1,75.90) rotate(-90)" font-size="8.6" text-anchor="middle">0</text>
<line x1="9" y1="104.50" x2="12.5" y2="104.50" stroke="#000" stroke-width="1"/>
<text transform="translate(7.1,104.80) rotate(-90)" font-size="8.6" text-anchor="middle">-1</text>
<line x1="9" y1="133.50" x2="12.5" y2="133.50" stroke="#000" stroke-width="1"/>
<text transform="translate(7.1,133.70) rotate(-90)" font-size="8.6" text-anchor="middle">-2</text>
<line x1="9" y1="162.50" x2="12.5" y2="162.50" stroke="#000" stroke-width="1"/>
<text transform="translate(7.1,162.60) rotate(-90)" font-size="8.6" text-anchor="middle">-3</text>
<line x1="9" y1="191.50" x2="12.5" y2="191.50" stroke="#000" stroke-width="1"/>
<text transform="translate(7.1,191.50) rotate(-90)" font-size="8.6" text-anchor="middle">-4</text>
<line x1="9" y1="219.50" x2="12.5" y2="219.50" stroke="#000" stroke-width="1"/>
<text transform="translate(7.1,220.40) rotate(-90)" font-size="8.6" text-anchor="middle">-5</text>
<rect x="195.5" y="32.5" width="9" height="188" fill="url(#vg)" stroke="#000" stroke-width="1"/>
<path d="M205.3 32 V221" stroke="#000" stroke-width="0.5" opacity="0.6" fill="none"/>
<line x1="195.5" y1="46.50" x2="207.8" y2="46.50" stroke="#000" stroke-width="1"/>
<text x="210.9" y="48.90" font-size="8.8">200</text>
<line x1="195.5" y1="90.50" x2="207.8" y2="90.50" stroke="#000" stroke-width="1"/>
<text x="210.9" y="92.40" font-size="8.8">150</text>
<line x1="195.5" y1="133.50" x2="207.8" y2="133.50" stroke="#000" stroke-width="1"/>
<text x="210.9" y="135.80" font-size="8.8">100</text>
<line x1="195.5" y1="176.50" x2="207.8" y2="176.50" stroke="#000" stroke-width="1"/>
<text x="210.9" y="179.00" font-size="8.8">50</text>
</g>
<g transform="translate(448,0)">
<path fill="#482475" d="M75 37h5v5h-5zM80 37h5v5h-5zM70 42h5v5h-5zM75 42h5v5h-5zM85 42h5v5h-5zM90 42h5v5h-5zM56 47h5v5h-5zM61 47h5v5h-5zM51 52h5v4h-5zM56 52h5v4h-5zM51 56h5v5h-5zM46 61h5v5h-5zM46 66h5v5h-5z"/>
<path fill="#414487" d="M80 42h5v5h-5zM66 47h4v5h-4zM70 47h5v5h-5zM75 47h5v5h-5zM80 47h5v5h-5zM85 47h5v5h-5zM90 47h5v5h-5zM61 52h5v4h-5zM66 52h4v4h-4zM70 52h5v4h-5zM80 52h5v4h-5zM104 52h5v4h-5zM56 56h5v5h-5zM61 56h5v5h-5zM51 61h5v5h-5zM56 61h5v5h-5zM61 61h5v5h-5zM51 66h5v5h-5zM56 66h5v5h-5zM46 71h5v5h-5zM42 76h4v4h-4zM99 76h5v4h-5zM37 80h5v5h-5zM99 80h5v5h-5zM32 85h5v5h-5zM70 95h5v5h-5zM70 100h5v5h-5zM66 153h4v5h-4zM70 153h5v5h-5zM66 158h4v4h-4z"/>
<path fill="#46085c" d="M51 47h5v5h-5zM42 52h4v4h-4zM46 52h5v4h-5zM46 56h5v5h-5z"/>
<path fill="#33628d" d="M95 47h4v5h-4zM75 52h5v4h-5zM85 52h5v4h-5zM90 52h5v4h-5zM95 52h4v4h-4zM99 52h5v4h-5zM109 52h5v4h-5zM66 56h4v5h-4zM70 56h5v5h-5zM75 56h5v5h-5zM80 56h5v5h-5zM114 56h5v5h-5zM66 61h4v5h-4zM70 61h5v5h-5zM75 61h5v5h-5zM61 66h5v5h-5zM66 66h4v5h-4zM70 66h5v5h-5zM75 66h5v5h-5zM51 71h5v5h-5zM56 71h5v5h-5zM61 71h5v5h-5zM66 71h4v5h-4zM70 71h5v5h-5zM75 71h5v5h-5zM104 71h5v5h-5zM46 76h5v4h-5zM51 76h5v4h-5zM56 76h5v4h-5zM70 76h5v4h-5zM75 76h5v4h-5zM42 80h4v5h-4zM46 80h5v5h-5zM70 80h5v5h-5zM75 80h5v5h-5zM95 80h4v5h-4zM37 85h5v5h-5zM42 85h4v5h-4zM70 85h5v5h-5zM95 85h4v5h-4zM32 90h5v5h-5zM37 90h5v5h-5zM70 90h5v5h-5zM90 90h5v5h-5zM95 90h4v5h-4zM99 90h5v5h-5zM22 105h5v4h-5zM70 105h5v4h-5zM22 109h5v5h-5zM22 114h5v5h-5zM66 114h4v5h-4zM75 114h5v5h-5zM80 114h5v5h-5zM22 119h5v5h-5zM66 119h4v5h-4zM22 124h5v5h-5zM18 138h4v5h-4zM75 143h5v5h-5zM80 143h5v5h-5zM75 148h5v5h-5zM61 162h5v5h-5zM66 162h4v5h-4zM70 172h5v5h-5zM75 172h5v5h-5zM61 177h5v5h-5zM66 177h4v5h-4zM70 177h5v5h-5zM66 182h4v5h-4zM70 182h5v5h-5z"/>
<path fill="#2a788e" d="M85 56h5v5h-5zM104 56h5v5h-5zM109 56h5v5h-5zM90 61h5v5h-5zM109 61h5v5h-5zM80 66h5v5h-5zM99 66h5v5h-5zM104 66h5v5h-5zM119 66h4v5h-4zM123 66h5v5h-5zM128 66h5v5h-5zM133 66h5v5h-5zM138 66h5v5h-5zM152 66h5v5h-5zM157 66h5v5h-5zM80 71h5v5h-5zM99 71h5v5h-5zM119 71h4v5h-4zM123 71h5v5h-5zM128 71h5v5h-5zM133 71h5v5h-5zM138 71h5v5h-5zM143 71h4v5h-4zM147 71h5v5h-5zM152 71h5v5h-5zM157 71h5v5h-5zM162 71h5v5h-5zM61 76h5v4h-5zM66 76h4v4h-4zM104 76h5v4h-5zM119 76h4v4h-4zM123 76h5v4h-5zM128 76h5v4h-5zM133 76h5v4h-5zM138 76h5v4h-5zM143 76h4v4h-4zM147 76h5v4h-5zM152 76h5v4h-5zM157 76h5v4h-5zM162 76h5v4h-5zM167 76h4v4h-4zM171 76h5v4h-5zM51 80h5v5h-5zM56 80h5v5h-5zM66 80h4v5h-4zM104 80h5v5h-5zM119 80h4v5h-4zM123 80h5v5h-5zM128 80h5v5h-5zM133 80h5v5h-5zM138 80h5v5h-5zM143 80h4v5h-4zM147 80h5v5h-5zM152 80h5v5h-5zM157 80h5v5h-5zM162 80h5v5h-5zM167 80h4v5h-4zM171 80h5v5h-5zM46 85h5v5h-5zM51 85h5v5h-5zM56 85h5v5h-5zM61 85h5v5h-5zM66 85h4v5h-4zM75 85h5v5h-5zM99 85h5v5h-5zM119 85h4v5h-4zM123 85h5v5h-5zM128 85h5v5h-5zM133 85h5v5h-5zM138 85h5v5h-5zM143 85h4v5h-4zM147 85h5v5h-5zM152 85h5v5h-5zM157 85h5v5h-5zM162 85h5v5h-5zM167 85h4v5h-4zM171 85h5v5h-5zM176 85h5v5h-5zM42 90h4v5h-4zM46 90h5v5h-5zM51 90h5v5h-5zM56 90h5v5h-5zM61 90h5v5h-5zM66 90h4v5h-4zM119 90h4v5h-4zM123 90h5v5h-5zM128 90h5v5h-5zM133 90h5v5h-5zM138 90h5v5h-5zM143 90h4v5h-4zM147 90h5v5h-5zM152 90h5v5h-5zM157 90h5v5h-5zM162 90h5v5h-5zM167 90h4v5h-4zM171 90h5v5h-5zM176 90h5v5h-5zM181 90h5v5h-5zM32 95h5v5h-5zM37 95h5v5h-5zM56 95h5v5h-5zM61 95h5v5h-5zM66 95h4v5h-4zM90 95h5v5h-5zM95 95h4v5h-4zM109 95h5v5h-5zM119 95h4v5h-4zM123 95h5v5h-5zM128 95h5v5h-5zM133 95h5v5h-5zM138 95h5v5h-5zM143 95h4v5h-4zM147 95h5v5h-5zM152 95h5v5h-5zM157 95h5v5h-5zM162 95h5v5h-5zM167 95h4v5h-4zM171 95h5v5h-5zM176 95h5v5h-5zM51 100h5v5h-5zM56 100h5v5h-5zM61 100h5v5h-5zM66 100h4v5h-4zM75 100h5v5h-5zM90 100h5v5h-5zM95 100h4v5h-4zM109 100h5v5h-5zM114 100h5v5h-5zM119 100h4v5h-4zM123 100h5v5h-5zM128 100h5v5h-5zM133 100h5v5h-5zM138 100h5v5h-5zM143 100h4v5h-4zM147 100h5v5h-5zM152 100h5v5h-5zM157 100h5v5h-5zM162 100h5v5h-5zM167 100h4v5h-4zM171 100h5v5h-5zM176 100h5v5h-5zM181 100h5v5h-5zM27 105h5v4h-5zM56 105h5v4h-5zM61 105h5v4h-5zM66 105h4v4h-4zM75 105h5v4h-5zM90 105h5v4h-5zM95 105h4v4h-4zM104 105h5v4h-5zM109 105h5v4h-5zM114 105h5v4h-5zM119 105h4v4h-4zM123 105h5v4h-5zM128 105h5v4h-5zM133 105h5v4h-5zM138 105h5v4h-5zM143 105h4v4h-4zM147 105h5v4h-5zM152 105h5v4h-5zM157 105h5v4h-5zM162 105h5v4h-5zM167 105h4v4h-4zM171 105h5v4h-5zM27 109h5v5h-5zM56 109h5v5h-5zM61 109h5v5h-5zM66 109h4v5h-4zM70 109h5v5h-5zM75 109h5v5h-5zM104 109h5v5h-5zM109 109h5v5h-5zM114 109h5v5h-5zM119 109h4v5h-4zM123 109h5v5h-5zM128 109h5v5h-5zM133 109h5v5h-5zM138 109h5v5h-5zM143 109h4v5h-4zM147 109h5v5h-5zM152 109h5v5h-5zM157 109h5v5h-5zM162 109h5v5h-5zM167 109h4v5h-4zM171 109h5v5h-5zM27 114h5v5h-5zM56 114h5v5h-5zM61 114h5v5h-5zM70 114h5v5h-5zM104 114h5v5h-5zM109 114h5v5h-5zM114 114h5v5h-5zM119 114h4v5h-4zM123 114h5v5h-5zM128 114h5v5h-5zM133 114h5v5h-5zM138 114h5v5h-5zM143 114h4v5h-4zM147 114h5v5h-5zM152 114h5v5h-5zM157 114h5v5h-5zM162 114h5v5h-5zM167 114h4v5h-4zM171 114h5v5h-5zM27 119h5v5h-5zM56 119h5v5h-5zM61 119h5v5h-5zM75 119h5v5h-5zM99 119h5v5h-5zM104 119h5v5h-5zM109 119h5v5h-5zM114 119h5v5h-5zM119 119h4v5h-4zM123 119h5v5h-5zM128 119h5v5h-5zM133 119h5v5h-5zM138 119h5v5h-5zM143 119h4v5h-4zM147 119h5v5h-5zM152 119h5v5h-5zM157 119h5v5h-5zM162 119h5v5h-5zM167 119h4v5h-4zM27 124h5v5h-5zM61 124h5v5h-5zM66 124h4v5h-4zM75 124h5v5h-5zM90 124h5v5h-5zM99 124h5v5h-5zM104 124h5v5h-5zM109 124h5v5h-5zM114 124h5v5h-5zM119 124h4v5h-4zM123 124h5v5h-5zM128 124h5v5h-5zM133 124h5v5h-5zM138 124h5v5h-5zM143 124h4v5h-4zM147 124h5v5h-5zM152 124h5v5h-5zM157 124h5v5h-5zM162 124h5v5h-5zM167 124h4v5h-4zM27 129h5v5h-5zM61 129h5v5h-5zM66 129h4v5h-4zM80 129h5v5h-5zM90 129h5v5h-5zM104 129h5v5h-5zM109 129h5v5h-5zM114 129h5v5h-5zM119 129h4v5h-4zM123 129h5v5h-5zM128 129h5v5h-5zM133 129h5v5h-5zM138 129h5v5h-5zM143 129h4v5h-4zM147 129h5v5h-5zM152 129h5v5h-5zM157 129h5v5h-5zM162 129h5v5h-5zM27 134h5v4h-5zM66 134h4v4h-4zM75 134h5v4h-5zM80 134h5v4h-5zM85 134h5v4h-5zM114 134h5v4h-5zM119 134h4v4h-4zM123 134h5v4h-5zM128 134h5v4h-5zM133 134h5v4h-5zM138 134h5v4h-5zM143 134h4v4h-4zM147 134h5v4h-5zM152 134h5v4h-5zM157 134h5v4h-5zM22 138h5v5h-5zM66 138h4v5h-4zM70 138h5v5h-5zM80 138h5v5h-5zM85 138h5v5h-5zM123 138h5v5h-5zM128 138h5v5h-5zM133 138h5v5h-5zM138 138h5v5h-5zM143 138h4v5h-4zM147 138h5v5h-5zM152 138h5v5h-5zM66 143h4v5h-4zM85 143h5v5h-5zM119 143h4v5h-4zM123 143h5v5h-5zM128 143h5v5h-5zM133 143h5v5h-5zM138 143h5v5h-5zM143 143h4v5h-4zM61 148h5v5h-5zM66 148h4v5h-4zM70 148h5v5h-5zM80 148h5v5h-5zM119 148h4v5h-4zM123 148h5v5h-5zM128 148h5v5h-5zM133 148h5v5h-5zM138 148h5v5h-5zM56 153h5v5h-5zM61 153h5v5h-5zM114 153h5v5h-5zM119 153h4v5h-4zM123 153h5v5h-5zM51 158h5v4h-5zM56 158h5v4h-5zM61 158h5v4h-5zM70 158h5v4h-5zM85 158h5v4h-5zM104 158h5v4h-5zM109 158h5v4h-5zM51 162h5v5h-5zM56 162h5v5h-5zM70 162h5v5h-5zM75 162h5v5h-5zM80 162h5v5h-5zM46 167h5v5h-5zM51 167h5v5h-5zM56 167h5v5h-5zM61 167h5v5h-5zM66 167h4v5h-4zM70 167h5v5h-5zM75 167h5v5h-5zM42 172h4v5h-4zM46 172h5v5h-5zM51 172h5v5h-5zM56 172h5v5h-5zM61 172h5v5h-5zM66 172h4v5h-4zM56 177h5v5h-5zM61 182h5v5h-5zM66 187h4v4h-4zM70 187h5v4h-5zM70 191h5v5h-5zM70 196h5v5h-5z"/>
<path fill="#1f958b" d="M90 56h5v5h-5zM95 56h4v5h-4zM99 56h5v5h-5zM95 61h4v5h-4zM114 61h5v5h-5zM119 61h4v5h-4zM109 66h5v5h-5zM114 66h5v5h-5zM95 71h4v5h-4zM109 71h5v5h-5zM114 71h5v5h-5zM95 76h4v4h-4zM114 76h5v4h-5zM61 80h5v5h-5zM85 80h5v5h-5zM85 85h5v5h-5zM90 85h5v5h-5zM75 90h5v5h-5zM80 90h5v5h-5zM85 90h5v5h-5zM104 90h5v5h-5zM42 95h4v5h-4zM46 95h5v5h-5zM51 95h5v5h-5zM75 95h5v5h-5zM80 95h5v5h-5zM85 95h5v5h-5zM99 95h5v5h-5zM114 95h5v5h-5zM32 100h5v5h-5zM37 100h5v5h-5zM42 100h4v5h-4zM46 100h5v5h-5zM80 100h5v5h-5zM99 100h5v5h-5zM104 100h5v5h-5zM32 105h5v4h-5zM37 105h5v4h-5zM42 105h4v4h-4zM46 105h5v4h-5zM51 105h5v4h-5zM80 105h5v4h-5zM99 105h5v4h-5zM32 109h5v5h-5zM37 109h5v5h-5zM42 109h4v5h-4zM46 109h5v5h-5zM51 109h5v5h-5zM80 109h5v5h-5zM90 109h5v5h-5zM95 109h4v5h-4zM32 114h5v5h-5zM42 114h4v5h-4zM46 114h5v5h-5zM51 114h5v5h-5zM90 114h5v5h-5zM95 114h4v5h-4zM99 114h5v5h-5zM32 119h5v5h-5zM37 119h5v5h-5zM46 119h5v5h-5zM51 119h5v5h-5zM70 119h5v5h-5zM80 119h5v5h-5zM90 119h5v5h-5zM95 119h4v5h-4zM32 124h5v5h-5zM37 124h5v5h-5zM51 124h5v5h-5zM56 124h5v5h-5zM80 124h5v5h-5zM85 124h5v5h-5zM95 124h4v5h-4zM32 129h5v5h-5zM37 129h5v5h-5zM46 129h5v5h-5zM51 129h5v5h-5zM56 129h5v5h-5zM70 129h5v5h-5zM75 129h5v5h-5zM85 129h5v5h-5zM99 129h5v5h-5zM32 134h5v4h-5zM37 134h5v4h-5zM42 134h4v4h-4zM46 134h5v4h-5zM51 134h5v4h-5zM56 134h5v4h-5zM61 134h5v4h-5zM70 134h5v4h-5zM90 134h5v4h-5zM95 134h4v4h-4zM99 134h5v4h-5zM104 134h5v4h-5zM109 134h5v4h-5zM27 138h5v5h-5zM32 138h5v5h-5zM37 138h5v5h-5zM42 138h4v5h-4zM46 138h5v5h-5zM51 138h5v5h-5zM56 138h5v5h-5zM61 138h5v5h-5zM90 138h5v5h-5zM99 138h5v5h-5zM109 138h5v5h-5zM114 138h5v5h-5zM119 138h4v5h-4zM27 143h5v5h-5zM32 143h5v5h-5zM37 143h5v5h-5zM42 143h4v5h-4zM46 143h5v5h-5zM51 143h5v5h-5zM56 143h5v5h-5zM61 143h5v5h-5zM90 143h5v5h-5zM95 143h4v5h-4zM99 143h5v5h-5zM109 143h5v5h-5zM114 143h5v5h-5zM46 148h5v5h-5zM51 148h5v5h-5zM56 148h5v5h-5zM85 148h5v5h-5zM95 148h4v5h-4zM99 148h5v5h-5zM109 148h5v5h-5zM114 148h5v5h-5zM42 153h4v5h-4zM46 153h5v5h-5zM51 153h5v5h-5zM75 153h5v5h-5zM80 153h5v5h-5zM85 153h5v5h-5zM90 153h5v5h-5zM104 153h5v5h-5zM109 153h5v5h-5zM37 158h5v4h-5zM42 158h4v4h-4zM80 158h5v4h-5zM90 158h5v4h-5zM95 158h4v4h-4zM99 158h5v4h-5zM85 162h5v5h-5zM90 162h5v5h-5zM95 162h4v5h-4zM99 162h5v5h-5zM80 167h5v5h-5zM85 167h5v5h-5zM90 167h5v5h-5zM95 167h4v5h-4zM80 172h5v5h-5zM85 172h5v5h-5zM90 172h5v5h-5zM46 177h5v5h-5zM51 177h5v5h-5zM75 177h5v5h-5zM80 177h5v5h-5zM85 177h5v5h-5zM90 177h5v5h-5zM46 182h5v5h-5zM51 182h5v5h-5zM56 182h5v5h-5zM75 182h5v5h-5zM80 182h5v5h-5zM90 182h5v5h-5zM61 187h5v4h-5zM75 187h5v4h-5zM85 187h5v4h-5zM66 191h4v5h-4zM66 201h4v5h-4zM70 201h5v5h-5zM66 206h4v5h-4zM61 211h5v4h-5zM66 211h4v4h-4z"/>
<path fill="#22a884" d="M80 61h5v5h-5zM99 61h5v5h-5zM104 61h5v5h-5zM85 66h5v5h-5zM90 66h5v5h-5zM95 66h4v5h-4zM80 76h5v4h-5zM85 76h5v4h-5zM109 76h5v4h-5zM109 80h5v5h-5zM114 80h5v5h-5zM80 85h5v5h-5zM104 85h5v5h-5zM109 85h5v5h-5zM114 85h5v5h-5zM109 90h5v5h-5zM114 90h5v5h-5zM104 95h5v5h-5zM85 100h5v5h-5zM99 109h5v5h-5zM37 114h5v5h-5zM85 114h5v5h-5zM42 119h4v5h-4zM85 119h5v5h-5zM42 124h4v5h-4zM46 124h5v5h-5zM70 124h5v5h-5zM42 129h4v5h-4zM95 129h4v5h-4zM75 138h5v5h-5zM95 138h4v5h-4zM104 138h5v5h-5zM70 143h5v5h-5zM104 143h5v5h-5zM32 148h5v5h-5zM37 148h5v5h-5zM90 148h5v5h-5zM104 148h5v5h-5zM95 153h4v5h-4zM99 153h5v5h-5zM75 158h5v4h-5zM42 177h4v5h-4zM42 182h4v5h-4zM85 182h5v5h-5zM42 187h4v4h-4zM46 187h5v4h-5zM51 187h5v4h-5zM56 187h5v4h-5zM80 187h5v4h-5zM80 191h5v5h-5zM85 191h5v5h-5zM61 196h5v5h-5zM75 196h5v5h-5zM80 196h5v5h-5zM75 201h5v5h-5zM80 201h5v5h-5zM61 206h5v5h-5zM75 206h5v5h-5zM80 206h5v5h-5zM75 211h5v4h-5z"/>
<path fill="#44bf70" d="M85 61h5v5h-5zM85 71h5v5h-5zM85 105h5v4h-5zM85 109h5v5h-5zM32 191h5v5h-5zM37 191h5v5h-5zM42 191h4v5h-4zM46 191h5v5h-5zM51 191h5v5h-5zM56 191h5v5h-5zM61 191h5v5h-5zM75 191h5v5h-5zM42 196h4v5h-4zM46 196h5v5h-5zM51 196h5v5h-5zM56 196h5v5h-5zM66 196h4v5h-4zM51 201h5v5h-5zM56 201h5v5h-5zM61 201h5v5h-5zM70 206h5v5h-5zM70 211h5v4h-5zM66 215h4v5h-4zM70 215h5v5h-5z"/>
<path fill="#6ece58" d="M90 71h5v5h-5zM80 80h5v5h-5z"/>
<path fill="#b0dd2f" d="M90 76h5v4h-5zM37 196h5v5h-5z"/>
<path fill="#fde725" d="M90 80h5v5h-5zM32 201h5v5h-5z"/>
<path d="M12.65 32 V221 M12 32.65 H186 M11.5 220.35 H186" stroke="#000" stroke-width="1.3" fill="none"/>
<path d="M185.5 32 V221" stroke="#000" stroke-width="0.6" fill="none"/>
<text x="99" y="25.6" font-size="13.3" font-weight="bold" text-anchor="middle">bio7</text>
<line x1="17.50" y1="220.5" x2="17.50" y2="224" stroke="#000" stroke-width="1"/>
<text x="17.60" y="233.7" font-size="8.4" text-anchor="middle" textLength="8.8" lengthAdjust="spacingAndGlyphs">-81</text>
<line x1="46.50" y1="220.5" x2="46.50" y2="224" stroke="#000" stroke-width="1"/>
<text x="46.45" y="233.7" font-size="8.4" text-anchor="middle" textLength="8.8" lengthAdjust="spacingAndGlyphs">-80</text>
<line x1="75.50" y1="220.5" x2="75.50" y2="224" stroke="#000" stroke-width="1"/>
<text x="75.30" y="233.7" font-size="8.4" text-anchor="middle" textLength="8.8" lengthAdjust="spacingAndGlyphs">-79</text>
<line x1="104.50" y1="220.5" x2="104.50" y2="224" stroke="#000" stroke-width="1"/>
<text x="104.15" y="233.7" font-size="8.4" text-anchor="middle" textLength="8.8" lengthAdjust="spacingAndGlyphs">-78</text>
<line x1="133.50" y1="220.5" x2="133.50" y2="224" stroke="#000" stroke-width="1"/>
<text x="133.00" y="233.7" font-size="8.4" text-anchor="middle" textLength="8.8" lengthAdjust="spacingAndGlyphs">-77</text>
<line x1="161.50" y1="220.5" x2="161.50" y2="224" stroke="#000" stroke-width="1"/>
<text x="161.85" y="233.7" font-size="8.4" text-anchor="middle" textLength="8.8" lengthAdjust="spacingAndGlyphs">-76</text>
<line x1="9" y1="46.50" x2="12.5" y2="46.50" stroke="#000" stroke-width="1"/>
<text transform="translate(7.1,47.00) rotate(-90)" font-size="8.6" text-anchor="middle">1</text>
<line x1="9" y1="75.50" x2="12.5" y2="75.50" stroke="#000" stroke-width="1"/>
<text transform="translate(7.1,75.90) rotate(-90)" font-size="8.6" text-anchor="middle">0</text>
<line x1="9" y1="104.50" x2="12.5" y2="104.50" stroke="#000" stroke-width="1"/>
<text transform="translate(7.1,104.80) rotate(-90)" font-size="8.6" text-anchor="middle">-1</text>
<line x1="9" y1="133.50" x2="12.5" y2="133.50" stroke="#000" stroke-width="1"/>
<text transform="translate(7.1,133.70) rotate(-90)" font-size="8.6" text-anchor="middle">-2</text>
<line x1="9" y1="162.50" x2="12.5" y2="162.50" stroke="#000" stroke-width="1"/>
<text transform="translate(7.1,162.60) rotate(-90)" font-size="8.6" text-anchor="middle">-3</text>
<line x1="9" y1="191.50" x2="12.5" y2="191.50" stroke="#000" stroke-width="1"/>
<text transform="translate(7.1,191.50) rotate(-90)" font-size="8.6" text-anchor="middle">-4</text>
<line x1="9" y1="219.50" x2="12.5" y2="219.50" stroke="#000" stroke-width="1"/>
<text transform="translate(7.1,220.40) rotate(-90)" font-size="8.6" text-anchor="middle">-5</text>
<rect x="195.5" y="32.5" width="9" height="188" fill="url(#vg)" stroke="#000" stroke-width="1"/>
<path d="M205.3 32 V221" stroke="#000" stroke-width="0.5" opacity="0.6" fill="none"/>
<line x1="195.5" y1="38.50" x2="207.8" y2="38.50" stroke="#000" stroke-width="1"/>
<text x="210.9" y="40.70" font-size="8.8">160</text>
<line x1="195.5" y1="82.50" x2="207.8" y2="82.50" stroke="#000" stroke-width="1"/>
<text x="210.9" y="84.20" font-size="8.8">140</text>
<line x1="195.5" y1="126.50" x2="207.8" y2="126.50" stroke="#000" stroke-width="1"/>
<text x="210.9" y="128.10" font-size="8.8">120</text>
<line x1="195.5" y1="169.50" x2="207.8" y2="169.50" stroke="#000" stroke-width="1"/>
<text x="210.9" y="171.70" font-size="8.8">100</text>
<line x1="195.5" y1="212.50" x2="207.8" y2="212.50" stroke="#000" stroke-width="1"/>
<text x="210.9" y="214.90" font-size="8.8">80</text>
</g>
<g transform="translate(0,240)">
<path fill="#26828e" d="M75 37h5v5h-5zM80 37h5v5h-5zM70 42h5v5h-5zM75 42h5v5h-5zM80 42h5v5h-5zM61 47h5v5h-5zM66 47h4v5h-4zM90 47h5v5h-5zM95 47h4v5h-4zM61 52h5v4h-5zM66 52h4v4h-4zM85 52h5v4h-5zM90 52h5v4h-5zM46 56h5v5h-5zM51 56h5v5h-5zM56 56h5v5h-5zM80 56h5v5h-5zM46 61h5v5h-5zM80 61h5v5h-5zM46 66h5v5h-5zM80 66h5v5h-5zM114 66h5v5h-5zM46 71h5v5h-5zM80 71h5v5h-5zM114 71h5v5h-5zM46 76h5v4h-5zM80 76h5v4h-5zM114 76h5v4h-5zM46 80h5v5h-5zM80 80h5v5h-5zM171 80h5v5h-5zM46 85h5v5h-5zM75 85h5v5h-5zM109 85h5v5h-5zM171 85h5v5h-5zM176 85h5v5h-5zM167 90h4v5h-4zM171 90h5v5h-5zM176 90h5v5h-5zM181 90h5v5h-5zM42 95h4v5h-4zM167 95h4v5h-4zM171 95h5v5h-5zM176 95h5v5h-5zM42 100h4v5h-4zM167 100h4v5h-4zM171 100h5v5h-5zM176 100h5v5h-5zM181 100h5v5h-5zM42 105h4v4h-4zM99 105h5v4h-5zM171 105h5v4h-5zM37 109h5v5h-5zM42 109h4v5h-4zM171 109h5v5h-5zM37 114h5v5h-5zM42 114h4v5h-4zM46 114h5v5h-5zM70 114h5v5h-5zM167 114h4v5h-4zM171 114h5v5h-5zM37 119h5v5h-5zM42 119h4v5h-4zM46 119h5v5h-5zM70 119h5v5h-5zM167 119h4v5h-4zM42 124h4v5h-4zM46 124h5v5h-5zM70 124h5v5h-5zM167 124h4v5h-4zM46 129h5v5h-5zM51 129h5v5h-5zM51 134h5v4h-5zM70 134h5v4h-5zM114 134h5v4h-5zM119 134h4v4h-4zM123 134h5v4h-5zM128 134h5v4h-5zM133 134h5v4h-5zM51 138h5v5h-5zM95 138h4v5h-4zM99 138h5v5h-5zM114 138h5v5h-5zM119 138h4v5h-4zM123 138h5v5h-5zM128 138h5v5h-5zM133 138h5v5h-5zM138 138h5v5h-5zM143 138h4v5h-4zM56 143h5v5h-5zM95 143h4v5h-4zM99 143h5v5h-5zM109 143h5v5h-5zM133 143h5v5h-5zM138 143h5v5h-5zM143 143h4v5h-4zM56 148h5v5h-5zM61 148h5v5h-5zM66 148h4v5h-4zM90 148h5v5h-5zM95 148h4v5h-4zM138 148h5v5h-5zM90 153h5v5h-5zM95 153h4v5h-4zM104 153h5v5h-5zM104 158h5v4h-5zM109 158h5v4h-5zM90 162h5v5h-5zM99 162h5v5h-5zM90 167h5v5h-5zM90 172h5v5h-5zM90 177h5v5h-5zM46 182h5v5h-5zM51 182h5v5h-5zM56 182h5v5h-5zM90 182h5v5h-5zM42 187h4v4h-4zM46 187h5v4h-5zM51 187h5v4h-5zM85 187h5v4h-5zM37 191h5v5h-5zM46 191h5v5h-5zM51 191h5v5h-5zM85 191h5v5h-5zM37 196h5v5h-5zM42 196h4v5h-4zM46 196h5v5h-5zM51 196h5v5h-5zM51 201h5v5h-5z"/>
<path fill="#1f9a8a" d="M85 42h5v5h-5zM70 47h5v5h-5zM75 47h5v5h-5zM80 47h5v5h-5zM85 47h5v5h-5zM70 52h5v4h-5zM75 52h5v4h-5zM80 52h5v4h-5zM61 56h5v5h-5zM70 56h5v5h-5zM75 56h5v5h-5zM51 61h5v5h-5zM75 61h5v5h-5zM51 66h5v5h-5zM75 66h5v5h-5zM119 66h4v5h-4zM128 66h5v5h-5zM133 66h5v5h-5zM138 66h5v5h-5zM51 71h5v5h-5zM147 71h5v5h-5zM152 71h5v5h-5zM157 71h5v5h-5zM51 76h5v4h-5zM147 76h5v4h-5zM152 76h5v4h-5zM157 76h5v4h-5zM162 76h5v4h-5zM167 76h4v4h-4zM171 76h5v4h-5zM51 80h5v5h-5zM75 80h5v5h-5zM114 80h5v5h-5zM147 80h5v5h-5zM152 80h5v5h-5zM157 80h5v5h-5zM162 80h5v5h-5zM167 80h4v5h-4zM70 85h5v5h-5zM114 85h5v5h-5zM147 85h5v5h-5zM152 85h5v5h-5zM157 85h5v5h-5zM162 85h5v5h-5zM167 85h4v5h-4zM46 90h5v5h-5zM70 90h5v5h-5zM109 90h5v5h-5zM147 90h5v5h-5zM152 90h5v5h-5zM157 90h5v5h-5zM162 90h5v5h-5zM46 95h5v5h-5zM104 95h5v5h-5zM147 95h5v5h-5zM152 95h5v5h-5zM157 95h5v5h-5zM162 95h5v5h-5zM46 100h5v5h-5zM147 100h5v5h-5zM152 100h5v5h-5zM157 100h5v5h-5zM162 100h5v5h-5zM46 105h5v4h-5zM70 105h5v4h-5zM147 105h5v4h-5zM152 105h5v4h-5zM157 105h5v4h-5zM162 105h5v4h-5zM167 105h4v4h-4zM46 109h5v5h-5zM51 109h5v5h-5zM70 109h5v5h-5zM99 109h5v5h-5zM147 109h5v5h-5zM152 109h5v5h-5zM157 109h5v5h-5zM162 109h5v5h-5zM167 109h4v5h-4zM51 114h5v5h-5zM147 114h5v5h-5zM152 114h5v5h-5zM157 114h5v5h-5zM162 114h5v5h-5zM51 119h5v5h-5zM147 119h5v5h-5zM152 119h5v5h-5zM157 119h5v5h-5zM162 119h5v5h-5zM51 124h5v5h-5zM56 124h5v5h-5zM99 124h5v5h-5zM114 124h5v5h-5zM147 124h5v5h-5zM152 124h5v5h-5zM157 124h5v5h-5zM162 124h5v5h-5zM56 129h5v5h-5zM99 129h5v5h-5zM104 129h5v5h-5zM109 129h5v5h-5zM114 129h5v5h-5zM119 129h4v5h-4zM123 129h5v5h-5zM128 129h5v5h-5zM133 129h5v5h-5zM138 129h5v5h-5zM143 129h4v5h-4zM147 129h5v5h-5zM152 129h5v5h-5zM157 129h5v5h-5zM162 129h5v5h-5zM56 134h5v4h-5zM99 134h5v4h-5zM104 134h5v4h-5zM109 134h5v4h-5zM138 134h5v4h-5zM143 134h4v4h-4zM147 134h5v4h-5zM152 134h5v4h-5zM157 134h5v4h-5zM56 138h5v5h-5zM70 138h5v5h-5zM109 138h5v5h-5zM147 138h5v5h-5zM152 138h5v5h-5zM61 143h5v5h-5zM99 148h5v5h-5zM104 148h5v5h-5zM99 153h5v5h-5zM90 158h5v4h-5zM95 158h4v4h-4zM99 158h5v4h-5zM95 162h4v5h-4zM95 167h4v5h-4zM42 191h4v5h-4z"/>
<path fill="#37b878" d="M90 42h5v5h-5zM66 56h4v5h-4zM56 61h5v5h-5zM61 61h5v5h-5zM70 61h5v5h-5zM56 66h5v5h-5zM152 66h5v5h-5zM157 66h5v5h-5zM56 71h5v5h-5zM75 71h5v5h-5zM133 71h5v5h-5zM138 71h5v5h-5zM162 71h5v5h-5zM56 76h5v4h-5zM75 76h5v4h-5zM119 76h4v4h-4zM133 76h5v4h-5zM138 76h5v4h-5zM56 80h5v5h-5zM119 80h4v5h-4zM51 85h5v5h-5zM56 85h5v5h-5zM119 85h4v5h-4zM51 90h5v5h-5zM56 90h5v5h-5zM51 95h5v5h-5zM56 95h5v5h-5zM70 95h5v5h-5zM51 100h5v5h-5zM56 100h5v5h-5zM70 100h5v5h-5zM104 100h5v5h-5zM51 105h5v4h-5zM56 105h5v4h-5zM61 105h5v4h-5zM114 105h5v4h-5zM56 109h5v5h-5zM114 109h5v5h-5zM56 114h5v5h-5zM66 114h4v5h-4zM99 114h5v5h-5zM114 114h5v5h-5zM56 119h5v5h-5zM66 119h4v5h-4zM99 119h5v5h-5zM109 119h5v5h-5zM114 119h5v5h-5zM66 124h4v5h-4zM104 124h5v5h-5zM109 124h5v5h-5zM61 129h5v5h-5zM66 129h4v5h-4zM61 134h5v4h-5zM61 138h5v5h-5zM104 138h5v5h-5zM66 143h4v5h-4zM104 143h5v5h-5z"/>
<path fill="#414487" d="M51 47h5v5h-5zM99 52h5v4h-5zM104 52h5v4h-5zM95 56h4v5h-4zM114 56h5v5h-5zM95 61h4v5h-4zM114 61h5v5h-5zM109 66h5v5h-5zM109 71h5v5h-5zM85 76h5v4h-5zM109 76h5v4h-5zM37 80h5v5h-5zM85 80h5v5h-5zM90 80h5v5h-5zM104 80h5v5h-5zM37 85h5v5h-5zM85 85h5v5h-5zM90 85h5v5h-5zM104 85h5v5h-5zM37 90h5v5h-5zM80 90h5v5h-5zM32 95h5v5h-5zM75 95h5v5h-5zM32 100h5v5h-5zM75 100h5v5h-5zM32 105h5v4h-5zM75 105h5v4h-5zM95 105h4v4h-4zM75 109h5v5h-5zM95 109h4v5h-4zM27 114h5v5h-5zM75 114h5v5h-5zM95 114h4v5h-4zM27 119h5v5h-5zM75 119h5v5h-5zM27 124h5v5h-5zM75 124h5v5h-5zM27 129h5v5h-5zM75 129h5v5h-5zM27 134h5v4h-5zM75 134h5v4h-5zM90 134h5v4h-5zM27 138h5v5h-5zM32 138h5v5h-5zM37 138h5v5h-5zM75 138h5v5h-5zM27 143h5v5h-5zM32 143h5v5h-5zM37 143h5v5h-5zM42 143h4v5h-4zM32 148h5v5h-5zM37 148h5v5h-5zM46 148h5v5h-5zM70 148h5v5h-5zM85 148h5v5h-5zM42 153h4v5h-4zM46 153h5v5h-5zM66 153h4v5h-4zM85 153h5v5h-5zM51 158h5v4h-5zM85 158h5v4h-5zM51 162h5v5h-5zM56 162h5v5h-5zM51 167h5v5h-5zM56 167h5v5h-5zM80 167h5v5h-5zM56 172h5v5h-5zM80 172h5v5h-5zM42 177h4v5h-4zM56 177h5v5h-5zM61 177h5v5h-5zM75 177h5v5h-5zM61 182h5v5h-5zM66 182h4v5h-4zM61 187h5v4h-5zM66 187h4v4h-4zM75 187h5v4h-5zM61 191h5v5h-5zM66 191h4v5h-4zM70 191h5v5h-5zM75 191h5v5h-5zM66 196h4v5h-4zM75 196h5v5h-5zM32 201h5v5h-5zM70 201h5v5h-5zM75 201h5v5h-5zM70 206h5v5h-5zM75 206h5v5h-5zM80 206h5v5h-5zM61 211h5v4h-5zM75 211h5v4h-5zM66 215h4v5h-4z"/>
<path fill="#33628d" d="M56 47h5v5h-5zM42 52h4v4h-4zM46 52h5v4h-5zM51 52h5v4h-5zM56 52h5v4h-5zM95 52h4v4h-4zM85 56h5v5h-5zM90 56h5v5h-5zM85 61h5v5h-5zM90 61h5v5h-5zM119 61h4v5h-4zM85 66h5v5h-5zM85 71h5v5h-5zM42 76h4v4h-4zM42 80h4v5h-4zM109 80h5v5h-5zM42 85h4v5h-4zM80 85h5v5h-5zM42 90h4v5h-4zM75 90h5v5h-5zM104 90h5v5h-5zM37 95h5v5h-5zM99 95h5v5h-5zM37 100h5v5h-5zM99 100h5v5h-5zM37 105h5v4h-5zM32 109h5v5h-5zM32 114h5v5h-5zM32 119h5v5h-5zM95 119h4v5h-4zM32 124h5v5h-5zM37 124h5v5h-5zM95 124h4v5h-4zM32 129h5v5h-5zM37 129h5v5h-5zM42 129h4v5h-4zM70 129h5v5h-5zM95 129h4v5h-4zM32 134h5v4h-5zM37 134h5v4h-5zM42 134h4v4h-4zM46 134h5v4h-5zM95 134h4v4h-4zM42 138h4v5h-4zM46 138h5v5h-5zM90 138h5v5h-5zM46 143h5v5h-5zM51 143h5v5h-5zM70 143h5v5h-5zM90 143h5v5h-5zM114 143h5v5h-5zM119 143h4v5h-4zM123 143h5v5h-5zM128 143h5v5h-5zM51 148h5v5h-5zM109 148h5v5h-5zM114 148h5v5h-5zM119 148h4v5h-4zM123 148h5v5h-5zM128 148h5v5h-5zM133 148h5v5h-5zM51 153h5v5h-5zM56 153h5v5h-5zM61 153h5v5h-5zM109 153h5v5h-5zM114 153h5v5h-5zM119 153h4v5h-4zM123 153h5v5h-5zM56 158h5v4h-5zM85 162h5v5h-5zM85 167h5v5h-5zM51 172h5v5h-5zM85 172h5v5h-5zM46 177h5v5h-5zM51 177h5v5h-5zM80 177h5v5h-5zM85 177h5v5h-5zM42 182h4v5h-4zM75 182h5v5h-5zM80 182h5v5h-5zM85 182h5v5h-5zM56 187h5v4h-5zM80 187h5v4h-5zM32 191h5v5h-5zM56 191h5v5h-5zM80 191h5v5h-5zM56 196h5v5h-5zM61 196h5v5h-5zM80 196h5v5h-5zM56 201h5v5h-5zM61 201h5v5h-5zM66 201h4v5h-4zM80 201h5v5h-5zM61 206h5v5h-5zM66 206h4v5h-4zM66 211h4v4h-4zM70 211h5v4h-5zM70 215h5v5h-5z"/>
<path fill="#482475" d="M109 52h5v4h-5zM99 56h5v5h-5zM104 56h5v5h-5zM109 56h5v5h-5zM104 61h5v5h-5zM109 61h5v5h-5zM90 66h5v5h-5zM95 66h4v5h-4zM99 66h5v5h-5zM104 66h5v5h-5zM95 71h4v5h-4zM99 71h5v5h-5zM104 71h5v5h-5zM90 76h5v4h-5zM95 76h4v4h-4zM99 76h5v4h-5zM104 76h5v4h-5zM95 80h4v5h-4zM99 80h5v5h-5zM32 85h5v5h-5zM95 85h4v5h-4zM99 85h5v5h-5zM32 90h5v5h-5zM85 90h5v5h-5zM90 90h5v5h-5zM95 90h4v5h-4zM99 90h5v5h-5zM80 95h5v5h-5zM85 95h5v5h-5zM90 95h5v5h-5zM95 95h4v5h-4zM80 100h5v5h-5zM85 100h5v5h-5zM95 100h4v5h-4zM27 105h5v4h-5zM80 105h5v4h-5zM85 105h5v4h-5zM27 109h5v5h-5zM80 109h5v5h-5zM85 109h5v5h-5zM80 114h5v5h-5zM85 114h5v5h-5zM90 114h5v5h-5zM80 119h5v5h-5zM85 119h5v5h-5zM90 119h5v5h-5zM22 124h5v5h-5zM80 124h5v5h-5zM85 124h5v5h-5zM90 124h5v5h-5zM80 129h5v5h-5zM85 129h5v5h-5zM90 129h5v5h-5zM80 134h5v4h-5zM85 134h5v4h-5zM22 138h5v5h-5zM80 138h5v5h-5zM85 138h5v5h-5zM75 143h5v5h-5zM80 143h5v5h-5zM85 143h5v5h-5zM75 148h5v5h-5zM80 148h5v5h-5zM70 153h5v5h-5zM75 153h5v5h-5zM80 153h5v5h-5zM37 158h5v4h-5zM42 158h4v4h-4zM61 158h5v4h-5zM66 158h4v4h-4zM70 158h5v4h-5zM75 158h5v4h-5zM80 158h5v4h-5zM61 162h5v5h-5zM66 162h4v5h-4zM70 162h5v5h-5zM75 162h5v5h-5zM80 162h5v5h-5zM46 167h5v5h-5zM61 167h5v5h-5zM66 167h4v5h-4zM70 167h5v5h-5zM75 167h5v5h-5zM42 172h4v5h-4zM46 172h5v5h-5zM61 172h5v5h-5zM66 172h4v5h-4zM75 172h5v5h-5zM66 177h4v5h-4zM70 177h5v5h-5zM70 182h5v5h-5zM70 187h5v4h-5zM70 196h5v5h-5z"/>
<path fill="#63cb5f" d="M66 61h4v5h-4zM61 66h5v5h-5zM70 80h5v5h-5zM61 85h5v5h-5zM66 85h4v5h-4zM61 90h5v5h-5zM66 90h4v5h-4zM114 90h5v5h-5zM61 95h5v5h-5zM66 95h4v5h-4zM109 95h5v5h-5zM61 100h5v5h-5zM109 100h5v5h-5zM114 100h5v5h-5zM66 105h4v4h-4zM104 105h5v4h-5zM109 105h5v4h-5zM61 109h5v5h-5zM66 109h4v5h-4zM104 109h5v5h-5zM104 114h5v5h-5zM104 119h5v5h-5zM61 124h5v5h-5zM66 134h4v4h-4zM66 138h4v5h-4z"/>
<path fill="#46085c" d="M99 61h5v5h-5zM90 71h5v5h-5zM90 100h5v5h-5zM22 105h5v4h-5zM90 105h5v4h-5zM22 109h5v5h-5zM90 109h5v5h-5zM22 114h5v5h-5zM22 119h5v5h-5zM18 138h4v5h-4zM70 172h5v5h-5z"/>
<path fill="#8ed645" d="M66 66h4v5h-4zM70 66h5v5h-5zM61 71h5v5h-5zM61 76h5v4h-5zM61 80h5v5h-5zM66 80h4v5h-4zM114 95h5v5h-5zM66 100h4v5h-4zM109 109h5v5h-5zM61 114h5v5h-5zM109 114h5v5h-5zM61 119h5v5h-5z"/>
<path fill="#20a386" d="M123 66h5v5h-5zM119 71h4v5h-4zM123 71h5v5h-5zM128 71h5v5h-5zM143 71h4v5h-4zM123 76h5v4h-5zM128 76h5v4h-5zM143 76h4v4h-4zM123 80h5v5h-5zM128 80h5v5h-5zM133 80h5v5h-5zM138 80h5v5h-5zM143 80h4v5h-4zM123 85h5v5h-5zM128 85h5v5h-5zM133 85h5v5h-5zM138 85h5v5h-5zM143 85h4v5h-4zM119 90h4v5h-4zM123 90h5v5h-5zM128 90h5v5h-5zM133 90h5v5h-5zM138 90h5v5h-5zM143 90h4v5h-4zM119 95h4v5h-4zM123 95h5v5h-5zM128 95h5v5h-5zM133 95h5v5h-5zM138 95h5v5h-5zM143 95h4v5h-4zM119 100h4v5h-4zM123 100h5v5h-5zM128 100h5v5h-5zM133 100h5v5h-5zM138 100h5v5h-5zM143 100h4v5h-4zM119 105h4v4h-4zM123 105h5v4h-5zM128 105h5v4h-5zM133 105h5v4h-5zM138 105h5v4h-5zM143 105h4v4h-4zM119 109h4v5h-4zM123 109h5v5h-5zM128 109h5v5h-5zM133 109h5v5h-5zM138 109h5v5h-5zM143 109h4v5h-4zM119 114h4v5h-4zM123 114h5v5h-5zM128 114h5v5h-5zM133 114h5v5h-5zM138 114h5v5h-5zM143 114h4v5h-4zM119 119h4v5h-4zM123 119h5v5h-5zM128 119h5v5h-5zM133 119h5v5h-5zM138 119h5v5h-5zM143 119h4v5h-4zM119 124h4v5h-4zM123 124h5v5h-5zM128 124h5v5h-5zM133 124h5v5h-5zM138 124h5v5h-5zM143 124h4v5h-4z"/>
<path fill="#cae11f" d="M66 71h4v5h-4zM66 76h4v4h-4z"/>
<path fill="#ece51b" d="M70 71h5v5h-5z"/>
<path fill="#a2da37" d="M70 76h5v4h-5z"/>
<path d="M12.65 32 V221 M12 32.65 H186 M11.5 220.35 H186" stroke="#000" stroke-width="1.3" fill="none"/>
<path d="M185.5 32 V221" stroke="#000" stroke-width="0.6" fill="none"/>
<text x="99" y="25.6" font-size="13.3" font-weight="bold" text-anchor="middle">bio13</text>
<line x1="17.50" y1="220.5" x2="17.50" y2="224" stroke="#000" stroke-width="1"/>
<text x="17.60" y="233.7" font-size="8.4" text-anchor="middle" textLength="8.8" lengthAdjust="spacingAndGlyphs">-81</text>
<line x1="46.50" y1="220.5" x2="46.50" y2="224" stroke="#000" stroke-width="1"/>
<text x="46.45" y="233.7" font-size="8.4" text-anchor="middle" textLength="8.8" lengthAdjust="spacingAndGlyphs">-80</text>
<line x1="75.50" y1="220.5" x2="75.50" y2="224" stroke="#000" stroke-width="1"/>
<text x="75.30" y="233.7" font-size="8.4" text-anchor="middle" textLength="8.8" lengthAdjust="spacingAndGlyphs">-79</text>
<line x1="104.50" y1="220.5" x2="104.50" y2="224" stroke="#000" stroke-width="1"/>
<text x="104.15" y="233.7" font-size="8.4" text-anchor="middle" textLength="8.8" lengthAdjust="spacingAndGlyphs">-78</text>
<line x1="133.50" y1="220.5" x2="133.50" y2="224" stroke="#000" stroke-width="1"/>
<text x="133.00" y="233.7" font-size="8.4" text-anchor="middle" textLength="8.8" lengthAdjust="spacingAndGlyphs">-77</text>
<line x1="161.50" y1="220.5" x2="161.50" y2="224" stroke="#000" stroke-width="1"/>
<text x="161.85" y="233.7" font-size="8.4" text-anchor="middle" textLength="8.8" lengthAdjust="spacingAndGlyphs">-76</text>
<line x1="9" y1="46.50" x2="12.5" y2="46.50" stroke="#000" stroke-width="1"/>
<text transform="translate(7.1,47.00) rotate(-90)" font-size="8.6" text-anchor="middle">1</text>
<line x1="9" y1="75.50" x2="12.5" y2="75.50" stroke="#000" stroke-width="1"/>
<text transform="translate(7.1,75.90) rotate(-90)" font-size="8.6" text-anchor="middle">0</text>
<line x1="9" y1="104.50" x2="12.5" y2="104.50" stroke="#000" stroke-width="1"/>
<text transform="translate(7.1,104.80) rotate(-90)" font-size="8.6" text-anchor="middle">-1</text>
<line x1="9" y1="133.50" x2="12.5" y2="133.50" stroke="#000" stroke-width="1"/>
<text transform="translate(7.1,133.70) rotate(-90)" font-size="8.6" text-anchor="middle">-2</text>
<line x1="9" y1="162.50" x2="12.5" y2="162.50" stroke="#000" stroke-width="1"/>
<text transform="translate(7.1,162.60) rotate(-90)" font-size="8.6" text-anchor="middle">-3</text>
<line x1="9" y1="191.50" x2="12.5" y2="191.50" stroke="#000" stroke-width="1"/>
<text transform="translate(7.1,191.50) rotate(-90)" font-size="8.6" text-anchor="middle">-4</text>
<line x1="9" y1="219.50" x2="12.5" y2="219.50" stroke="#000" stroke-width="1"/>
<text transform="translate(7.1,220.40) rotate(-90)" font-size="8.6" text-anchor="middle">-5</text>
<rect x="195.5" y="32.5" width="9" height="188" fill="url(#vg)" stroke="#000" stroke-width="1"/>
<path d="M205.3 32 V221" stroke="#000" stroke-width="0.5" opacity="0.6" fill="none"/>
<line x1="195.5" y1="40.50" x2="207.8" y2="40.50" stroke="#000" stroke-width="1"/>
<text x="210.9" y="42.60" font-size="8.8">600</text>
<line x1="195.5" y1="73.50" x2="207.8" y2="73.50" stroke="#000" stroke-width="1"/>
<text x="210.9" y="75.20" font-size="8.8">500</text>
<line x1="195.5" y1="105.50" x2="207.8" y2="105.50" stroke="#000" stroke-width="1"/>
<text x="210.9" y="107.70" font-size="8.8">400</text>
<line x1="195.5" y1="138.50" x2="207.8" y2="138.50" stroke="#000" stroke-width="1"/>
<text x="210.9" y="140.50" font-size="8.8">300</text>
<line x1="195.5" y1="171.50" x2="207.8" y2="171.50" stroke="#000" stroke-width="1"/>
<text x="210.9" y="173.10" font-size="8.8">200</text>
<line x1="195.5" y1="203.50" x2="207.8" y2="203.50" stroke="#000" stroke-width="1"/>
<text x="210.9" y="205.80" font-size="8.8">100</text>
</g>
<g transform="translate(224,240)">
<path fill="#375a8c" d="M75 37h5v5h-5zM70 42h5v5h-5zM90 47h5v5h-5zM66 52h4v4h-4zM85 52h5v4h-5zM66 56h4v5h-4zM80 56h5v5h-5zM114 56h5v5h-5zM66 61h4v5h-4zM75 61h5v5h-5zM114 61h5v5h-5zM66 66h4v5h-4zM75 66h5v5h-5zM66 71h4v5h-4zM75 71h5v5h-5zM80 71h5v5h-5zM104 71h5v5h-5zM109 71h5v5h-5zM66 76h4v4h-4zM70 76h5v4h-5zM75 76h5v4h-5zM104 76h5v4h-5zM66 80h4v5h-4zM104 80h5v5h-5zM104 85h5v5h-5zM104 90h5v5h-5zM99 100h5v5h-5zM95 114h4v5h-4zM90 124h5v5h-5zM90 134h5v4h-5zM90 138h5v5h-5zM90 143h5v5h-5zM90 148h5v5h-5zM85 162h5v5h-5zM85 167h5v5h-5zM80 172h5v5h-5zM85 172h5v5h-5zM75 177h5v5h-5zM80 177h5v5h-5zM70 187h5v4h-5zM75 191h5v5h-5zM75 196h5v5h-5zM75 201h5v5h-5zM75 206h5v5h-5zM80 206h5v5h-5z"/>
<path fill="#2a788e" d="M80 37h5v5h-5zM75 42h5v5h-5zM70 47h5v5h-5zM75 47h5v5h-5zM70 52h5v4h-5zM75 52h5v4h-5zM80 52h5v4h-5zM70 56h5v5h-5zM75 56h5v5h-5zM70 61h5v5h-5zM119 61h4v5h-4zM70 66h5v5h-5zM70 71h5v5h-5zM109 76h5v4h-5zM109 80h5v5h-5zM99 105h5v4h-5zM99 109h5v5h-5zM95 119h4v5h-4zM95 124h4v5h-4zM95 129h4v5h-4zM95 134h4v4h-4zM95 138h4v5h-4zM90 153h5v5h-5zM90 158h5v4h-5zM80 182h5v5h-5zM75 187h5v4h-5zM80 196h5v5h-5zM80 201h5v5h-5z"/>
<path fill="#1fa188" d="M80 42h5v5h-5zM80 47h5v5h-5zM85 47h5v5h-5zM109 66h5v5h-5zM162 71h5v5h-5zM114 76h5v4h-5zM167 76h4v4h-4zM171 76h5v4h-5zM114 80h5v5h-5zM162 80h5v5h-5zM167 80h4v5h-4zM171 80h5v5h-5zM109 85h5v5h-5zM162 85h5v5h-5zM167 85h4v5h-4zM171 85h5v5h-5zM176 85h5v5h-5zM109 90h5v5h-5zM162 90h5v5h-5zM167 90h4v5h-4zM171 90h5v5h-5zM176 90h5v5h-5zM181 90h5v5h-5zM104 95h5v5h-5zM123 95h5v5h-5zM128 95h5v5h-5zM162 95h5v5h-5zM167 95h4v5h-4zM171 95h5v5h-5zM176 95h5v5h-5zM104 100h5v5h-5zM123 100h5v5h-5zM128 100h5v5h-5zM167 100h4v5h-4zM171 100h5v5h-5zM176 100h5v5h-5zM181 100h5v5h-5zM167 105h4v4h-4zM171 105h5v4h-5zM167 109h4v5h-4zM171 109h5v5h-5zM171 114h5v5h-5zM167 119h4v5h-4zM167 124h4v5h-4zM95 143h4v5h-4zM95 148h4v5h-4zM99 148h5v5h-5zM109 148h5v5h-5zM95 153h4v5h-4zM99 153h5v5h-5zM95 158h4v4h-4zM99 158h5v4h-5zM90 162h5v5h-5zM95 162h4v5h-4zM90 167h5v5h-5zM95 167h4v5h-4zM90 172h5v5h-5zM85 177h5v5h-5zM90 177h5v5h-5zM80 187h5v4h-5zM80 191h5v5h-5z"/>
<path fill="#32b67a" d="M85 42h5v5h-5zM90 42h5v5h-5zM114 66h5v5h-5zM119 66h4v5h-4zM123 66h5v5h-5zM157 71h5v5h-5zM123 76h5v4h-5zM157 76h5v4h-5zM162 76h5v4h-5zM123 80h5v5h-5zM128 80h5v5h-5zM152 80h5v5h-5zM157 80h5v5h-5zM114 85h5v5h-5zM123 85h5v5h-5zM128 85h5v5h-5zM133 85h5v5h-5zM147 85h5v5h-5zM152 85h5v5h-5zM157 85h5v5h-5zM123 90h5v5h-5zM128 90h5v5h-5zM133 90h5v5h-5zM138 90h5v5h-5zM147 90h5v5h-5zM152 90h5v5h-5zM157 90h5v5h-5zM119 95h4v5h-4zM133 95h5v5h-5zM138 95h5v5h-5zM147 95h5v5h-5zM152 95h5v5h-5zM157 95h5v5h-5zM119 100h4v5h-4zM133 100h5v5h-5zM138 100h5v5h-5zM147 100h5v5h-5zM152 100h5v5h-5zM157 100h5v5h-5zM162 100h5v5h-5zM114 105h5v4h-5zM119 105h4v4h-4zM123 105h5v4h-5zM128 105h5v4h-5zM133 105h5v4h-5zM138 105h5v4h-5zM152 105h5v4h-5zM157 105h5v4h-5zM162 105h5v4h-5zM114 109h5v5h-5zM119 109h4v5h-4zM123 109h5v5h-5zM128 109h5v5h-5zM152 109h5v5h-5zM157 109h5v5h-5zM162 109h5v5h-5zM119 114h4v5h-4zM123 114h5v5h-5zM128 114h5v5h-5zM152 114h5v5h-5zM157 114h5v5h-5zM162 114h5v5h-5zM167 114h4v5h-4zM123 119h5v5h-5zM152 119h5v5h-5zM157 119h5v5h-5zM162 119h5v5h-5zM152 124h5v5h-5zM157 124h5v5h-5zM162 124h5v5h-5zM152 129h5v5h-5zM157 129h5v5h-5zM162 129h5v5h-5zM99 134h5v4h-5zM147 134h5v4h-5zM152 134h5v4h-5zM157 134h5v4h-5zM99 138h5v5h-5zM104 138h5v5h-5zM109 138h5v5h-5zM147 138h5v5h-5zM152 138h5v5h-5zM99 143h5v5h-5zM104 143h5v5h-5zM109 143h5v5h-5zM114 143h5v5h-5zM104 148h5v5h-5zM114 148h5v5h-5zM119 148h4v5h-4zM123 148h5v5h-5zM128 148h5v5h-5zM133 148h5v5h-5zM138 148h5v5h-5zM104 153h5v5h-5zM109 153h5v5h-5zM114 153h5v5h-5zM119 153h4v5h-4zM123 153h5v5h-5zM104 158h5v4h-5zM109 158h5v4h-5zM99 162h5v5h-5zM85 182h5v5h-5zM90 182h5v5h-5zM85 187h5v4h-5zM85 191h5v5h-5z"/>
<path fill="#482173" d="M51 47h5v5h-5zM56 47h5v5h-5zM61 47h5v5h-5zM46 52h5v4h-5zM51 52h5v4h-5zM99 52h5v4h-5zM109 52h5v4h-5zM51 56h5v5h-5zM90 56h5v5h-5zM99 56h5v5h-5zM104 56h5v5h-5zM46 61h5v5h-5zM51 61h5v5h-5zM90 61h5v5h-5zM95 61h4v5h-4zM104 61h5v5h-5zM46 66h5v5h-5zM51 66h5v5h-5zM56 66h5v5h-5zM90 66h5v5h-5zM95 66h4v5h-4zM99 66h5v5h-5zM46 71h5v5h-5zM51 71h5v5h-5zM56 71h5v5h-5zM95 71h4v5h-4zM42 76h4v4h-4zM46 76h5v4h-5zM51 76h5v4h-5zM56 76h5v4h-5zM95 76h4v4h-4zM37 80h5v5h-5zM42 80h4v5h-4zM46 80h5v5h-5zM51 80h5v5h-5zM85 80h5v5h-5zM95 80h4v5h-4zM37 85h5v5h-5zM42 85h4v5h-4zM46 85h5v5h-5zM51 85h5v5h-5zM80 85h5v5h-5zM85 85h5v5h-5zM90 85h5v5h-5zM95 85h4v5h-4zM42 90h4v5h-4zM46 90h5v5h-5zM51 90h5v5h-5zM56 90h5v5h-5zM70 90h5v5h-5zM75 90h5v5h-5zM80 90h5v5h-5zM85 90h5v5h-5zM90 90h5v5h-5zM95 90h4v5h-4zM46 95h5v5h-5zM51 95h5v5h-5zM56 95h5v5h-5zM61 95h5v5h-5zM66 95h4v5h-4zM70 95h5v5h-5zM75 95h5v5h-5zM80 95h5v5h-5zM85 95h5v5h-5zM90 95h5v5h-5zM95 95h4v5h-4zM51 100h5v5h-5zM56 100h5v5h-5zM61 100h5v5h-5zM66 100h4v5h-4zM70 100h5v5h-5zM80 100h5v5h-5zM85 100h5v5h-5zM90 100h5v5h-5zM95 100h4v5h-4zM66 105h4v4h-4zM70 105h5v4h-5zM75 105h5v4h-5zM80 105h5v4h-5zM85 105h5v4h-5zM90 105h5v4h-5zM66 109h4v5h-4zM70 109h5v5h-5zM75 109h5v5h-5zM90 109h5v5h-5zM66 114h4v5h-4zM70 114h5v5h-5zM75 114h5v5h-5zM90 114h5v5h-5zM66 119h4v5h-4zM70 119h5v5h-5zM75 119h5v5h-5zM80 119h5v5h-5zM90 119h5v5h-5zM66 124h4v5h-4zM70 124h5v5h-5zM75 124h5v5h-5zM80 124h5v5h-5zM66 129h4v5h-4zM70 129h5v5h-5zM75 129h5v5h-5zM80 129h5v5h-5zM70 134h5v4h-5zM80 134h5v4h-5zM66 138h4v5h-4zM70 138h5v5h-5zM75 138h5v5h-5zM80 138h5v5h-5zM61 143h5v5h-5zM66 143h4v5h-4zM70 143h5v5h-5zM75 143h5v5h-5zM80 143h5v5h-5zM56 148h5v5h-5zM61 148h5v5h-5zM66 148h4v5h-4zM70 148h5v5h-5zM75 148h5v5h-5zM51 153h5v5h-5zM56 153h5v5h-5zM61 153h5v5h-5zM66 153h4v5h-4zM75 153h5v5h-5zM51 158h5v4h-5zM56 158h5v4h-5zM61 158h5v4h-5zM70 158h5v4h-5zM51 162h5v5h-5zM61 162h5v5h-5zM66 162h4v5h-4zM70 162h5v5h-5zM51 167h5v5h-5zM66 167h4v5h-4zM70 167h5v5h-5zM66 172h4v5h-4zM70 172h5v5h-5zM61 177h5v5h-5zM66 177h4v5h-4zM70 177h5v5h-5zM61 182h5v5h-5zM66 182h4v5h-4zM61 187h5v4h-5zM66 187h4v4h-4zM61 191h5v5h-5zM61 196h5v5h-5zM66 196h4v5h-4zM61 201h5v5h-5zM66 201h4v5h-4zM61 206h5v5h-5zM66 206h4v5h-4zM61 211h5v4h-5zM66 211h4v4h-4zM66 215h4v5h-4zM70 215h5v5h-5z"/>
<path fill="#453781" d="M66 47h4v5h-4zM95 47h4v5h-4zM42 52h4v4h-4zM56 52h5v4h-5zM61 52h5v4h-5zM90 52h5v4h-5zM95 52h4v4h-4zM104 52h5v4h-5zM46 56h5v5h-5zM56 56h5v5h-5zM61 56h5v5h-5zM85 56h5v5h-5zM95 56h4v5h-4zM109 56h5v5h-5zM56 61h5v5h-5zM61 61h5v5h-5zM80 61h5v5h-5zM85 61h5v5h-5zM109 61h5v5h-5zM61 66h5v5h-5zM80 66h5v5h-5zM85 66h5v5h-5zM104 66h5v5h-5zM61 71h5v5h-5zM85 71h5v5h-5zM99 71h5v5h-5zM61 76h5v4h-5zM80 76h5v4h-5zM85 76h5v4h-5zM99 76h5v4h-5zM56 80h5v5h-5zM61 80h5v5h-5zM70 80h5v5h-5zM75 80h5v5h-5zM80 80h5v5h-5zM99 80h5v5h-5zM56 85h5v5h-5zM61 85h5v5h-5zM66 85h4v5h-4zM70 85h5v5h-5zM75 85h5v5h-5zM99 85h5v5h-5zM61 90h5v5h-5zM66 90h4v5h-4zM99 90h5v5h-5zM99 95h5v5h-5zM95 105h4v4h-4zM80 109h5v5h-5zM85 109h5v5h-5zM95 109h4v5h-4zM80 114h5v5h-5zM85 114h5v5h-5zM85 119h5v5h-5zM85 124h5v5h-5zM85 129h5v5h-5zM90 129h5v5h-5zM85 134h5v4h-5zM85 138h5v5h-5zM85 143h5v5h-5zM80 148h5v5h-5zM85 148h5v5h-5zM70 153h5v5h-5zM80 153h5v5h-5zM85 153h5v5h-5zM66 158h4v4h-4zM75 158h5v4h-5zM80 158h5v4h-5zM85 158h5v4h-5zM75 162h5v5h-5zM80 162h5v5h-5zM75 167h5v5h-5zM80 167h5v5h-5zM75 172h5v5h-5zM70 182h5v5h-5zM75 182h5v5h-5zM66 191h4v5h-4zM70 191h5v5h-5zM70 196h5v5h-5zM70 201h5v5h-5zM70 206h5v5h-5zM70 211h5v4h-5zM75 211h5v4h-5z"/>
<path fill="#470d60" d="M99 61h5v5h-5zM90 71h5v5h-5zM90 76h5v4h-5zM90 80h5v5h-5zM32 85h5v5h-5zM32 90h5v5h-5zM37 90h5v5h-5zM32 95h5v5h-5zM37 95h5v5h-5zM42 95h4v5h-4zM32 100h5v5h-5zM37 100h5v5h-5zM42 100h4v5h-4zM46 100h5v5h-5zM75 100h5v5h-5zM22 105h5v4h-5zM27 105h5v4h-5zM32 105h5v4h-5zM37 105h5v4h-5zM42 105h4v4h-4zM46 105h5v4h-5zM51 105h5v4h-5zM56 105h5v4h-5zM61 105h5v4h-5zM22 109h5v5h-5zM27 109h5v5h-5zM32 109h5v5h-5zM37 109h5v5h-5zM42 109h4v5h-4zM46 109h5v5h-5zM51 109h5v5h-5zM56 109h5v5h-5zM61 109h5v5h-5zM22 114h5v5h-5zM27 114h5v5h-5zM32 114h5v5h-5zM37 114h5v5h-5zM42 114h4v5h-4zM46 114h5v5h-5zM51 114h5v5h-5zM56 114h5v5h-5zM61 114h5v5h-5zM22 119h5v5h-5zM27 119h5v5h-5zM32 119h5v5h-5zM37 119h5v5h-5zM42 119h4v5h-4zM46 119h5v5h-5zM51 119h5v5h-5zM56 119h5v5h-5zM61 119h5v5h-5zM22 124h5v5h-5zM27 124h5v5h-5zM32 124h5v5h-5zM37 124h5v5h-5zM42 124h4v5h-4zM46 124h5v5h-5zM51 124h5v5h-5zM56 124h5v5h-5zM61 124h5v5h-5zM27 129h5v5h-5zM32 129h5v5h-5zM37 129h5v5h-5zM42 129h4v5h-4zM46 129h5v5h-5zM51 129h5v5h-5zM56 129h5v5h-5zM61 129h5v5h-5zM27 134h5v4h-5zM32 134h5v4h-5zM37 134h5v4h-5zM42 134h4v4h-4zM46 134h5v4h-5zM51 134h5v4h-5zM56 134h5v4h-5zM61 134h5v4h-5zM66 134h4v4h-4zM75 134h5v4h-5zM18 138h4v5h-4zM22 138h5v5h-5zM27 138h5v5h-5zM32 138h5v5h-5zM37 138h5v5h-5zM42 138h4v5h-4zM46 138h5v5h-5zM51 138h5v5h-5zM56 138h5v5h-5zM61 138h5v5h-5zM27 143h5v5h-5zM32 143h5v5h-5zM37 143h5v5h-5zM42 143h4v5h-4zM46 143h5v5h-5zM51 143h5v5h-5zM56 143h5v5h-5zM32 148h5v5h-5zM37 148h5v5h-5zM46 148h5v5h-5zM51 148h5v5h-5zM42 153h4v5h-4zM46 153h5v5h-5zM37 158h5v4h-5zM42 158h4v4h-4zM56 162h5v5h-5zM46 167h5v5h-5zM56 167h5v5h-5zM61 167h5v5h-5zM42 172h4v5h-4zM46 172h5v5h-5zM51 172h5v5h-5zM56 172h5v5h-5zM61 172h5v5h-5zM42 177h4v5h-4zM46 177h5v5h-5zM51 177h5v5h-5zM56 177h5v5h-5zM42 182h4v5h-4zM46 182h5v5h-5zM51 182h5v5h-5zM56 182h5v5h-5zM42 187h4v4h-4zM46 187h5v4h-5zM51 187h5v4h-5zM56 187h5v4h-5zM32 191h5v5h-5zM37 191h5v5h-5zM42 191h4v5h-4zM46 191h5v5h-5zM51 191h5v5h-5zM56 191h5v5h-5zM37 196h5v5h-5zM42 196h4v5h-4zM46 196h5v5h-5zM51 196h5v5h-5zM56 196h5v5h-5zM32 201h5v5h-5zM51 201h5v5h-5zM56 201h5v5h-5z"/>
<path fill="#58c765" d="M128 66h5v5h-5zM133 66h5v5h-5zM138 66h5v5h-5zM152 66h5v5h-5zM157 66h5v5h-5zM114 71h5v5h-5zM119 71h4v5h-4zM123 71h5v5h-5zM128 71h5v5h-5zM133 71h5v5h-5zM138 71h5v5h-5zM143 71h4v5h-4zM147 71h5v5h-5zM152 71h5v5h-5zM128 76h5v4h-5zM133 76h5v4h-5zM138 76h5v4h-5zM147 76h5v4h-5zM152 76h5v4h-5zM133 80h5v5h-5zM138 80h5v5h-5zM143 80h4v5h-4zM147 80h5v5h-5zM138 85h5v5h-5zM143 85h4v5h-4zM114 90h5v5h-5zM119 90h4v5h-4zM143 90h4v5h-4zM109 95h5v5h-5zM114 95h5v5h-5zM143 95h4v5h-4zM109 100h5v5h-5zM114 100h5v5h-5zM143 100h4v5h-4zM109 105h5v4h-5zM143 105h4v4h-4zM147 105h5v4h-5zM133 109h5v5h-5zM138 109h5v5h-5zM143 109h4v5h-4zM147 109h5v5h-5zM99 114h5v5h-5zM114 114h5v5h-5zM133 114h5v5h-5zM138 114h5v5h-5zM143 114h4v5h-4zM147 114h5v5h-5zM114 119h5v5h-5zM119 119h4v5h-4zM128 119h5v5h-5zM133 119h5v5h-5zM138 119h5v5h-5zM143 119h4v5h-4zM147 119h5v5h-5zM114 124h5v5h-5zM119 124h4v5h-4zM123 124h5v5h-5zM128 124h5v5h-5zM133 124h5v5h-5zM138 124h5v5h-5zM143 124h4v5h-4zM147 124h5v5h-5zM99 129h5v5h-5zM114 129h5v5h-5zM119 129h4v5h-4zM123 129h5v5h-5zM128 129h5v5h-5zM133 129h5v5h-5zM138 129h5v5h-5zM143 129h4v5h-4zM147 129h5v5h-5zM119 134h4v4h-4zM123 134h5v4h-5zM128 134h5v4h-5zM133 134h5v4h-5zM138 134h5v4h-5zM143 134h4v4h-4zM114 138h5v5h-5zM119 138h4v5h-4zM123 138h5v5h-5zM128 138h5v5h-5zM133 138h5v5h-5zM138 138h5v5h-5zM143 138h4v5h-4zM119 143h4v5h-4zM123 143h5v5h-5zM128 143h5v5h-5zM133 143h5v5h-5zM138 143h5v5h-5zM143 143h4v5h-4z"/>
<path fill="#86d549" d="M119 76h4v4h-4zM143 76h4v4h-4zM119 80h4v5h-4zM119 85h4v5h-4zM104 105h5v4h-5zM109 109h5v5h-5zM109 114h5v5h-5zM109 119h5v5h-5zM109 124h5v5h-5zM109 129h5v5h-5zM104 134h5v4h-5zM109 134h5v4h-5zM114 134h5v4h-5z"/>
<path fill="#a2da37" d="M104 109h5v5h-5zM99 124h5v5h-5zM104 129h5v5h-5z"/>
<path fill="#cae11f" d="M104 114h5v5h-5zM99 119h5v5h-5z"/>
<path fill="#ece51b" d="M104 119h5v5h-5zM104 124h5v5h-5z"/>
<path d="M12.65 32 V221 M12 32.65 H186 M11.5 220.35 H186" stroke="#000" stroke-width="1.3" fill="none"/>
<path d="M185.5 32 V221" stroke="#000" stroke-width="0.6" fill="none"/>
<text x="99" y="25.6" font-size="13.3" font-weight="bold" text-anchor="middle">bio14</text>
<line x1="17.50" y1="220.5" x2="17.50" y2="224" stroke="#000" stroke-width="1"/>
<text x="17.60" y="233.7" font-size="8.4" text-anchor="middle" textLength="8.8" lengthAdjust="spacingAndGlyphs">-81</text>
<line x1="46.50" y1="220.5" x2="46.50" y2="224" stroke="#000" stroke-width="1"/>
<text x="46.45" y="233.7" font-size="8.4" text-anchor="middle" textLength="8.8" lengthAdjust="spacingAndGlyphs">-80</text>
<line x1="75.50" y1="220.5" x2="75.50" y2="224" stroke="#000" stroke-width="1"/>
<text x="75.30" y="233.7" font-size="8.4" text-anchor="middle" textLength="8.8" lengthAdjust="spacingAndGlyphs">-79</text>
<line x1="104.50" y1="220.5" x2="104.50" y2="224" stroke="#000" stroke-width="1"/>
<text x="104.15" y="233.7" font-size="8.4" text-anchor="middle" textLength="8.8" lengthAdjust="spacingAndGlyphs">-78</text>
<line x1="133.50" y1="220.5" x2="133.50" y2="224" stroke="#000" stroke-width="1"/>
<text x="133.00" y="233.7" font-size="8.4" text-anchor="middle" textLength="8.8" lengthAdjust="spacingAndGlyphs">-77</text>
<line x1="161.50" y1="220.5" x2="161.50" y2="224" stroke="#000" stroke-width="1"/>
<text x="161.85" y="233.7" font-size="8.4" text-anchor="middle" textLength="8.8" lengthAdjust="spacingAndGlyphs">-76</text>
<line x1="9" y1="46.50" x2="12.5" y2="46.50" stroke="#000" stroke-width="1"/>
<text transform="translate(7.1,47.00) rotate(-90)" font-size="8.6" text-anchor="middle">1</text>
<line x1="9" y1="75.50" x2="12.5" y2="75.50" stroke="#000" stroke-width="1"/>
<text transform="translate(7.1,75.90) rotate(-90)" font-size="8.6" text-anchor="middle">0</text>
<line x1="9" y1="104.50" x2="12.5" y2="104.50" stroke="#000" stroke-width="1"/>
<text transform="translate(7.1,104.80) rotate(-90)" font-size="8.6" text-anchor="middle">-1</text>
<line x1="9" y1="133.50" x2="12.5" y2="133.50" stroke="#000" stroke-width="1"/>
<text transform="translate(7.1,133.70) rotate(-90)" font-size="8.6" text-anchor="middle">-2</text>
<line x1="9" y1="162.50" x2="12.5" y2="162.50" stroke="#000" stroke-width="1"/>
<text transform="translate(7.1,162.60) rotate(-90)" font-size="8.6" text-anchor="middle">-3</text>
<line x1="9" y1="191.50" x2="12.5" y2="191.50" stroke="#000" stroke-width="1"/>
<text transform="translate(7.1,191.50) rotate(-90)" font-size="8.6" text-anchor="middle">-4</text>
<line x1="9" y1="219.50" x2="12.5" y2="219.50" stroke="#000" stroke-width="1"/>
<text transform="translate(7.1,220.40) rotate(-90)" font-size="8.6" text-anchor="middle">-5</text>
<rect x="195.5" y="32.5" width="9" height="188" fill="url(#vg)" stroke="#000" stroke-width="1"/>
<path d="M205.3 32 V221" stroke="#000" stroke-width="0.5" opacity="0.6" fill="none"/>
<line x1="195.5" y1="55.50" x2="207.8" y2="55.50" stroke="#000" stroke-width="1"/>
<text x="210.9" y="57.10" font-size="8.8">250</text>
<line x1="195.5" y1="88.50" x2="207.8" y2="88.50" stroke="#000" stroke-width="1"/>
<text x="210.9" y="90.20" font-size="8.8">200</text>
<line x1="195.5" y1="121.50" x2="207.8" y2="121.50" stroke="#000" stroke-width="1"/>
<text x="210.9" y="123.30" font-size="8.8">150</text>
<line x1="195.5" y1="154.50" x2="207.8" y2="154.50" stroke="#000" stroke-width="1"/>
<text x="210.9" y="156.20" font-size="8.8">100</text>
<line x1="195.5" y1="187.50" x2="207.8" y2="187.50" stroke="#000" stroke-width="1"/>
<text x="210.9" y="189.30" font-size="8.8">50</text>
<line x1="195.5" y1="220.50" x2="207.8" y2="220.50" stroke="#000" stroke-width="1"/>
<text x="210.9" y="222.10" font-size="8.8">0</text>
</g>
<g transform="translate(448,240)">
<path fill="#3e4989" d="M75 37h5v5h-5zM80 37h5v5h-5zM70 42h5v5h-5zM75 42h5v5h-5zM70 47h5v5h-5zM95 47h4v5h-4zM70 52h5v4h-5zM75 52h5v4h-5zM80 52h5v4h-5zM85 52h5v4h-5zM90 52h5v4h-5zM95 52h4v4h-4zM99 52h5v4h-5zM85 56h5v5h-5zM90 56h5v5h-5zM95 56h4v5h-4zM99 56h5v5h-5zM90 61h5v5h-5zM95 61h4v5h-4zM90 66h5v5h-5zM95 66h4v5h-4zM90 71h5v5h-5zM95 71h4v5h-4zM90 76h5v4h-5zM85 80h5v5h-5zM90 80h5v5h-5zM85 85h5v5h-5zM90 85h5v5h-5zM109 85h5v5h-5zM85 90h5v5h-5zM90 90h5v5h-5zM109 90h5v5h-5zM114 90h5v5h-5zM80 95h5v5h-5zM85 95h5v5h-5zM80 100h5v5h-5zM85 100h5v5h-5zM80 105h5v4h-5zM80 114h5v5h-5zM80 124h5v5h-5zM80 129h5v5h-5zM85 134h5v4h-5zM85 138h5v5h-5zM75 143h5v5h-5zM80 143h5v5h-5zM70 153h5v5h-5zM66 158h4v4h-4zM70 162h5v5h-5zM70 167h5v5h-5zM70 172h5v5h-5zM70 177h5v5h-5zM66 187h4v4h-4zM70 191h5v5h-5zM70 196h5v5h-5zM70 201h5v5h-5zM70 206h5v5h-5zM61 211h5v4h-5zM70 211h5v4h-5z"/>
<path fill="#482475" d="M80 42h5v5h-5zM85 42h5v5h-5zM90 42h5v5h-5zM75 47h5v5h-5zM80 47h5v5h-5zM85 47h5v5h-5zM90 47h5v5h-5zM104 52h5v4h-5zM109 52h5v4h-5zM104 56h5v5h-5zM109 56h5v5h-5zM99 61h5v5h-5zM104 61h5v5h-5zM99 66h5v5h-5zM99 71h5v5h-5zM162 71h5v5h-5zM95 76h4v4h-4zM109 76h5v4h-5zM114 76h5v4h-5zM162 76h5v4h-5zM167 76h4v4h-4zM171 76h5v4h-5zM95 80h4v5h-4zM109 80h5v5h-5zM114 80h5v5h-5zM162 80h5v5h-5zM167 80h4v5h-4zM171 80h5v5h-5zM95 85h4v5h-4zM114 85h5v5h-5zM119 85h4v5h-4zM157 85h5v5h-5zM162 85h5v5h-5zM167 85h4v5h-4zM171 85h5v5h-5zM176 85h5v5h-5zM95 90h4v5h-4zM119 90h4v5h-4zM162 90h5v5h-5zM167 90h4v5h-4zM171 90h5v5h-5zM176 90h5v5h-5zM181 90h5v5h-5zM90 95h5v5h-5zM104 95h5v5h-5zM109 95h5v5h-5zM114 95h5v5h-5zM119 95h4v5h-4zM167 95h4v5h-4zM171 95h5v5h-5zM176 95h5v5h-5zM90 100h5v5h-5zM104 100h5v5h-5zM109 100h5v5h-5zM114 100h5v5h-5zM119 100h4v5h-4zM167 100h4v5h-4zM171 100h5v5h-5zM176 100h5v5h-5zM181 100h5v5h-5zM85 105h5v4h-5zM95 105h4v4h-4zM99 105h5v4h-5zM104 105h5v4h-5zM109 105h5v4h-5zM114 105h5v4h-5zM167 105h4v4h-4zM171 105h5v4h-5zM80 109h5v5h-5zM85 109h5v5h-5zM95 109h4v5h-4zM99 109h5v5h-5zM109 109h5v5h-5zM114 109h5v5h-5zM167 109h4v5h-4zM171 109h5v5h-5zM85 114h5v5h-5zM90 114h5v5h-5zM95 114h4v5h-4zM109 114h5v5h-5zM171 114h5v5h-5zM80 119h5v5h-5zM85 119h5v5h-5zM90 119h5v5h-5zM95 119h4v5h-4zM167 119h4v5h-4zM85 124h5v5h-5zM90 124h5v5h-5zM95 124h4v5h-4zM99 124h5v5h-5zM167 124h4v5h-4zM85 129h5v5h-5zM95 129h4v5h-4zM99 129h5v5h-5zM90 134h5v4h-5zM95 134h4v4h-4zM99 134h5v4h-5zM104 134h5v4h-5zM90 138h5v5h-5zM95 138h4v5h-4zM99 138h5v5h-5zM104 138h5v5h-5zM85 143h5v5h-5zM90 143h5v5h-5zM95 143h4v5h-4zM99 143h5v5h-5zM104 143h5v5h-5zM75 148h5v5h-5zM80 148h5v5h-5zM90 148h5v5h-5zM95 148h4v5h-4zM99 148h5v5h-5zM104 148h5v5h-5zM75 153h5v5h-5zM90 153h5v5h-5zM95 153h4v5h-4zM99 153h5v5h-5zM104 153h5v5h-5zM70 158h5v4h-5zM75 158h5v4h-5zM80 158h5v4h-5zM75 162h5v5h-5zM80 162h5v5h-5zM85 162h5v5h-5zM75 167h5v5h-5zM80 167h5v5h-5zM75 172h5v5h-5zM75 177h5v5h-5zM70 182h5v5h-5zM70 187h5v4h-5zM75 191h5v5h-5zM75 196h5v5h-5zM80 196h5v5h-5zM75 201h5v5h-5zM80 201h5v5h-5zM75 206h5v5h-5zM80 206h5v5h-5zM75 211h5v4h-5z"/>
<path fill="#25848e" d="M51 47h5v5h-5zM56 47h5v5h-5zM61 47h5v5h-5zM51 52h5v4h-5zM56 52h5v4h-5zM61 52h5v4h-5zM51 56h5v5h-5zM56 56h5v5h-5zM61 56h5v5h-5zM46 61h5v5h-5zM51 61h5v5h-5zM56 61h5v5h-5zM61 61h5v5h-5zM66 61h4v5h-4zM46 66h5v5h-5zM51 66h5v5h-5zM56 66h5v5h-5zM61 66h5v5h-5zM66 66h4v5h-4zM70 66h5v5h-5zM46 71h5v5h-5zM66 71h4v5h-4zM70 71h5v5h-5zM75 71h5v5h-5zM42 76h4v4h-4zM66 76h4v4h-4zM70 76h5v4h-5zM75 76h5v4h-5zM61 80h5v5h-5zM66 80h4v5h-4zM70 80h5v5h-5zM75 80h5v5h-5zM66 85h4v5h-4zM70 85h5v5h-5zM75 85h5v5h-5zM66 90h4v5h-4zM70 90h5v5h-5zM66 95h4v5h-4zM70 95h5v5h-5zM70 100h5v5h-5zM70 105h5v4h-5zM70 109h5v5h-5zM70 114h5v5h-5zM70 119h5v5h-5zM70 124h5v5h-5zM70 129h5v5h-5zM70 134h5v4h-5zM70 138h5v5h-5zM66 143h4v5h-4zM66 148h4v5h-4zM61 153h5v5h-5z"/>
<path fill="#31678e" d="M66 47h4v5h-4zM42 52h4v4h-4zM46 52h5v4h-5zM66 52h4v4h-4zM46 56h5v5h-5zM66 56h4v5h-4zM70 56h5v5h-5zM75 56h5v5h-5zM80 56h5v5h-5zM70 61h5v5h-5zM75 61h5v5h-5zM80 61h5v5h-5zM85 61h5v5h-5zM75 66h5v5h-5zM80 66h5v5h-5zM85 66h5v5h-5zM80 71h5v5h-5zM85 71h5v5h-5zM80 76h5v4h-5zM85 76h5v4h-5zM80 80h5v5h-5zM80 85h5v5h-5zM75 90h5v5h-5zM80 90h5v5h-5zM75 95h5v5h-5zM75 100h5v5h-5zM75 105h5v4h-5zM75 109h5v5h-5zM75 114h5v5h-5zM75 119h5v5h-5zM75 124h5v5h-5zM75 129h5v5h-5zM75 134h5v4h-5zM80 134h5v4h-5zM75 138h5v5h-5zM80 138h5v5h-5zM70 143h5v5h-5zM70 148h5v5h-5zM66 153h4v5h-4z"/>
<path fill="#471164" d="M114 56h5v5h-5zM109 61h5v5h-5zM114 61h5v5h-5zM119 61h4v5h-4zM104 66h5v5h-5zM109 66h5v5h-5zM114 66h5v5h-5zM119 66h4v5h-4zM123 66h5v5h-5zM128 66h5v5h-5zM133 66h5v5h-5zM138 66h5v5h-5zM152 66h5v5h-5zM157 66h5v5h-5zM104 71h5v5h-5zM109 71h5v5h-5zM114 71h5v5h-5zM119 71h4v5h-4zM123 71h5v5h-5zM128 71h5v5h-5zM133 71h5v5h-5zM138 71h5v5h-5zM143 71h4v5h-4zM147 71h5v5h-5zM152 71h5v5h-5zM157 71h5v5h-5zM99 76h5v4h-5zM104 76h5v4h-5zM119 76h4v4h-4zM123 76h5v4h-5zM128 76h5v4h-5zM133 76h5v4h-5zM138 76h5v4h-5zM143 76h4v4h-4zM147 76h5v4h-5zM152 76h5v4h-5zM157 76h5v4h-5zM99 80h5v5h-5zM104 80h5v5h-5zM119 80h4v5h-4zM123 80h5v5h-5zM128 80h5v5h-5zM133 80h5v5h-5zM138 80h5v5h-5zM143 80h4v5h-4zM147 80h5v5h-5zM152 80h5v5h-5zM157 80h5v5h-5zM99 85h5v5h-5zM104 85h5v5h-5zM123 85h5v5h-5zM128 85h5v5h-5zM133 85h5v5h-5zM138 85h5v5h-5zM143 85h4v5h-4zM147 85h5v5h-5zM152 85h5v5h-5zM99 90h5v5h-5zM104 90h5v5h-5zM123 90h5v5h-5zM128 90h5v5h-5zM133 90h5v5h-5zM138 90h5v5h-5zM143 90h4v5h-4zM147 90h5v5h-5zM152 90h5v5h-5zM157 90h5v5h-5zM95 95h4v5h-4zM99 95h5v5h-5zM123 95h5v5h-5zM128 95h5v5h-5zM133 95h5v5h-5zM138 95h5v5h-5zM143 95h4v5h-4zM147 95h5v5h-5zM152 95h5v5h-5zM157 95h5v5h-5zM162 95h5v5h-5zM95 100h4v5h-4zM99 100h5v5h-5zM123 100h5v5h-5zM128 100h5v5h-5zM133 100h5v5h-5zM138 100h5v5h-5zM143 100h4v5h-4zM147 100h5v5h-5zM152 100h5v5h-5zM157 100h5v5h-5zM162 100h5v5h-5zM90 105h5v4h-5zM119 105h4v4h-4zM123 105h5v4h-5zM128 105h5v4h-5zM133 105h5v4h-5zM138 105h5v4h-5zM143 105h4v4h-4zM147 105h5v4h-5zM152 105h5v4h-5zM157 105h5v4h-5zM162 105h5v4h-5zM90 109h5v5h-5zM104 109h5v5h-5zM119 109h4v5h-4zM123 109h5v5h-5zM128 109h5v5h-5zM133 109h5v5h-5zM138 109h5v5h-5zM143 109h4v5h-4zM147 109h5v5h-5zM152 109h5v5h-5zM157 109h5v5h-5zM162 109h5v5h-5zM99 114h5v5h-5zM104 114h5v5h-5zM114 114h5v5h-5zM119 114h4v5h-4zM123 114h5v5h-5zM128 114h5v5h-5zM133 114h5v5h-5zM138 114h5v5h-5zM143 114h4v5h-4zM147 114h5v5h-5zM152 114h5v5h-5zM157 114h5v5h-5zM162 114h5v5h-5zM167 114h4v5h-4zM99 119h5v5h-5zM104 119h5v5h-5zM109 119h5v5h-5zM114 119h5v5h-5zM119 119h4v5h-4zM123 119h5v5h-5zM128 119h5v5h-5zM133 119h5v5h-5zM138 119h5v5h-5zM143 119h4v5h-4zM147 119h5v5h-5zM152 119h5v5h-5zM157 119h5v5h-5zM162 119h5v5h-5zM104 124h5v5h-5zM109 124h5v5h-5zM114 124h5v5h-5zM119 124h4v5h-4zM123 124h5v5h-5zM128 124h5v5h-5zM133 124h5v5h-5zM138 124h5v5h-5zM143 124h4v5h-4zM147 124h5v5h-5zM152 124h5v5h-5zM157 124h5v5h-5zM162 124h5v5h-5zM90 129h5v5h-5zM104 129h5v5h-5zM109 129h5v5h-5zM114 129h5v5h-5zM119 129h4v5h-4zM123 129h5v5h-5zM128 129h5v5h-5zM133 129h5v5h-5zM138 129h5v5h-5zM143 129h4v5h-4zM147 129h5v5h-5zM152 129h5v5h-5zM157 129h5v5h-5zM162 129h5v5h-5zM109 134h5v4h-5zM114 134h5v4h-5zM119 134h4v4h-4zM123 134h5v4h-5zM128 134h5v4h-5zM133 134h5v4h-5zM138 134h5v4h-5zM143 134h4v4h-4zM147 134h5v4h-5zM152 134h5v4h-5zM157 134h5v4h-5zM109 138h5v5h-5zM114 138h5v5h-5zM119 138h4v5h-4zM123 138h5v5h-5zM128 138h5v5h-5zM133 138h5v5h-5zM138 138h5v5h-5zM143 138h4v5h-4zM147 138h5v5h-5zM152 138h5v5h-5zM109 143h5v5h-5zM114 143h5v5h-5zM119 143h4v5h-4zM123 143h5v5h-5zM128 143h5v5h-5zM133 143h5v5h-5zM138 143h5v5h-5zM143 143h4v5h-4zM85 148h5v5h-5zM109 148h5v5h-5zM114 148h5v5h-5zM119 148h4v5h-4zM123 148h5v5h-5zM128 148h5v5h-5zM133 148h5v5h-5zM138 148h5v5h-5zM80 153h5v5h-5zM85 153h5v5h-5zM109 153h5v5h-5zM114 153h5v5h-5zM119 153h4v5h-4zM123 153h5v5h-5zM85 158h5v4h-5zM90 158h5v4h-5zM95 158h4v4h-4zM99 158h5v4h-5zM104 158h5v4h-5zM109 158h5v4h-5zM90 162h5v5h-5zM95 162h4v5h-4zM99 162h5v5h-5zM85 167h5v5h-5zM90 167h5v5h-5zM95 167h4v5h-4zM80 172h5v5h-5zM85 172h5v5h-5zM90 172h5v5h-5zM80 177h5v5h-5zM85 177h5v5h-5zM90 177h5v5h-5zM75 182h5v5h-5zM80 182h5v5h-5zM85 182h5v5h-5zM90 182h5v5h-5zM75 187h5v4h-5zM80 187h5v4h-5zM85 187h5v4h-5zM80 191h5v5h-5zM85 191h5v5h-5z"/>
<path fill="#1fa188" d="M51 71h5v5h-5zM56 71h5v5h-5zM61 71h5v5h-5zM46 76h5v4h-5zM51 76h5v4h-5zM56 76h5v4h-5zM61 76h5v4h-5zM37 80h5v5h-5zM42 80h4v5h-4zM46 80h5v5h-5zM51 80h5v5h-5zM56 80h5v5h-5zM37 85h5v5h-5zM42 85h4v5h-4zM46 85h5v5h-5zM51 85h5v5h-5zM56 85h5v5h-5zM61 85h5v5h-5zM42 90h4v5h-4zM46 90h5v5h-5zM51 90h5v5h-5zM56 90h5v5h-5zM61 90h5v5h-5zM42 95h4v5h-4zM46 95h5v5h-5zM51 95h5v5h-5zM56 95h5v5h-5zM61 95h5v5h-5zM46 100h5v5h-5zM51 100h5v5h-5zM56 100h5v5h-5zM61 100h5v5h-5zM66 100h4v5h-4zM22 105h5v4h-5zM42 105h4v4h-4zM61 105h5v4h-5zM66 105h4v4h-4zM22 109h5v5h-5zM27 109h5v5h-5zM32 109h5v5h-5zM37 109h5v5h-5zM66 109h4v5h-4zM22 114h5v5h-5zM27 114h5v5h-5zM32 114h5v5h-5zM66 114h4v5h-4zM22 119h5v5h-5zM66 119h4v5h-4zM22 124h5v5h-5zM66 124h4v5h-4zM66 129h4v5h-4zM66 134h4v4h-4zM61 138h5v5h-5zM66 138h4v5h-4zM32 143h5v5h-5zM61 143h5v5h-5zM56 148h5v5h-5zM61 148h5v5h-5zM51 153h5v5h-5zM56 153h5v5h-5z"/>
<path fill="#37b878" d="M32 85h5v5h-5zM37 90h5v5h-5zM37 95h5v5h-5zM32 100h5v5h-5zM37 100h5v5h-5zM42 100h4v5h-4zM27 105h5v4h-5zM32 105h5v4h-5zM37 105h5v4h-5zM46 105h5v4h-5zM51 105h5v4h-5zM56 105h5v4h-5zM42 109h4v5h-4zM46 109h5v5h-5zM51 109h5v5h-5zM56 109h5v5h-5zM61 109h5v5h-5zM37 114h5v5h-5zM42 114h4v5h-4zM46 114h5v5h-5zM51 114h5v5h-5zM56 114h5v5h-5zM61 114h5v5h-5zM27 119h5v5h-5zM32 119h5v5h-5zM37 119h5v5h-5zM42 119h4v5h-4zM46 119h5v5h-5zM51 119h5v5h-5zM56 119h5v5h-5zM61 119h5v5h-5zM27 124h5v5h-5zM37 124h5v5h-5zM42 124h4v5h-4zM46 124h5v5h-5zM51 124h5v5h-5zM56 124h5v5h-5zM61 124h5v5h-5zM37 129h5v5h-5zM42 129h4v5h-4zM46 129h5v5h-5zM51 129h5v5h-5zM56 129h5v5h-5zM61 129h5v5h-5zM37 134h5v4h-5zM42 134h4v4h-4zM46 134h5v4h-5zM56 134h5v4h-5zM61 134h5v4h-5zM37 138h5v5h-5zM42 138h4v5h-4zM46 138h5v5h-5zM56 138h5v5h-5zM37 143h5v5h-5zM42 143h4v5h-4zM46 143h5v5h-5zM51 143h5v5h-5zM56 143h5v5h-5zM37 148h5v5h-5zM46 148h5v5h-5zM51 148h5v5h-5zM42 153h4v5h-4zM46 153h5v5h-5zM37 158h5v4h-5zM42 158h4v4h-4zM42 172h4v5h-4zM42 177h4v5h-4zM32 191h5v5h-5zM37 191h5v5h-5zM46 196h5v5h-5zM51 201h5v5h-5z"/>
<path fill="#5ec962" d="M32 90h5v5h-5zM32 95h5v5h-5zM32 124h5v5h-5zM27 129h5v5h-5zM32 129h5v5h-5zM51 134h5v4h-5zM32 138h5v5h-5zM51 138h5v5h-5zM32 148h5v5h-5zM42 196h4v5h-4z"/>
<path fill="#86d549" d="M27 134h5v4h-5zM32 134h5v4h-5zM18 138h4v5h-4zM27 143h5v5h-5zM37 196h5v5h-5z"/>
<path fill="#a2da37" d="M22 138h5v5h-5z"/>
<path fill="#cae11f" d="M27 138h5v5h-5z"/>
<path fill="#21918c" d="M51 158h5v4h-5zM46 167h5v5h-5zM46 172h5v5h-5zM46 177h5v5h-5zM51 177h5v5h-5zM42 182h4v5h-4zM46 182h5v5h-5zM51 182h5v5h-5zM56 182h5v5h-5zM42 187h4v4h-4zM46 187h5v4h-5zM51 187h5v4h-5zM56 187h5v4h-5zM42 191h4v5h-4zM46 191h5v5h-5zM51 191h5v5h-5zM51 196h5v5h-5zM56 196h5v5h-5zM56 201h5v5h-5z"/>
<path fill="#2a788e" d="M56 158h5v4h-5zM61 158h5v4h-5zM51 162h5v5h-5zM56 162h5v5h-5zM61 162h5v5h-5zM51 167h5v5h-5zM56 167h5v5h-5zM61 167h5v5h-5zM51 172h5v5h-5zM56 172h5v5h-5zM61 172h5v5h-5zM56 177h5v5h-5zM61 177h5v5h-5zM61 182h5v5h-5zM61 187h5v4h-5zM56 191h5v5h-5zM61 191h5v5h-5zM61 196h5v5h-5zM61 201h5v5h-5zM61 206h5v5h-5z"/>
<path fill="#355f8d" d="M66 162h4v5h-4zM66 167h4v5h-4zM66 172h4v5h-4zM66 177h4v5h-4zM66 182h4v5h-4zM66 191h4v5h-4zM66 196h4v5h-4zM66 201h4v5h-4zM66 206h4v5h-4zM66 211h4v4h-4zM66 215h4v5h-4zM70 215h5v5h-5z"/>
<path fill="#fde725" d="M32 201h5v5h-5z"/>
<path d="M12.65 32 V221 M12 32.65 H186 M11.5 220.35 H186" stroke="#000" stroke-width="1.3" fill="none"/>
<path d="M185.5 32 V221" stroke="#000" stroke-width="0.6" fill="none"/>
<text x="99" y="25.6" font-size="13.3" font-weight="bold" text-anchor="middle">bio15</text>
<line x1="17.50" y1="220.5" x2="17.50" y2="224" stroke="#000" stroke-width="1"/>
<text x="17.60" y="233.7" font-size="8.4" text-anchor="middle" textLength="8.8" lengthAdjust="spacingAndGlyphs">-81</text>
<line x1="46.50" y1="220.5" x2="46.50" y2="224" stroke="#000" stroke-width="1"/>
<text x="46.45" y="233.7" font-size="8.4" text-anchor="middle" textLength="8.8" lengthAdjust="spacingAndGlyphs">-80</text>
<line x1="75.50" y1="220.5" x2="75.50" y2="224" stroke="#000" stroke-width="1"/>
<text x="75.30" y="233.7" font-size="8.4" text-anchor="middle" textLength="8.8" lengthAdjust="spacingAndGlyphs">-79</text>
<line x1="104.50" y1="220.5" x2="104.50" y2="224" stroke="#000" stroke-width="1"/>
<text x="104.15" y="233.7" font-size="8.4" text-anchor="middle" textLength="8.8" lengthAdjust="spacingAndGlyphs">-78</text>
<line x1="133.50" y1="220.5" x2="133.50" y2="224" stroke="#000" stroke-width="1"/>
<text x="133.00" y="233.7" font-size="8.4" text-anchor="middle" textLength="8.8" lengthAdjust="spacingAndGlyphs">-77</text>
<line x1="161.50" y1="220.5" x2="161.50" y2="224" stroke="#000" stroke-width="1"/>
<text x="161.85" y="233.7" font-size="8.4" text-anchor="middle" textLength="8.8" lengthAdjust="spacingAndGlyphs">-76</text>
<line x1="9" y1="46.50" x2="12.5" y2="46.50" stroke="#000" stroke-width="1"/>
<text transform="translate(7.1,47.00) rotate(-90)" font-size="8.6" text-anchor="middle">1</text>
<line x1="9" y1="75.50" x2="12.5" y2="75.50" stroke="#000" stroke-width="1"/>
<text transform="translate(7.1,75.90) rotate(-90)" font-size="8.6" text-anchor="middle">0</text>
<line x1="9" y1="104.50" x2="12.5" y2="104.50" stroke="#000" stroke-width="1"/>
<text transform="translate(7.1,104.80) rotate(-90)" font-size="8.6" text-anchor="middle">-1</text>
<line x1="9" y1="133.50" x2="12.5" y2="133.50" stroke="#000" stroke-width="1"/>
<text transform="translate(7.1,133.70) rotate(-90)" font-size="8.6" text-anchor="middle">-2</text>
<line x1="9" y1="162.50" x2="12.5" y2="162.50" stroke="#000" stroke-width="1"/>
<text transform="translate(7.1,162.60) rotate(-90)" font-size="8.6" text-anchor="middle">-3</text>
<line x1="9" y1="191.50" x2="12.5" y2="191.50" stroke="#000" stroke-width="1"/>
<text transform="translate(7.1,191.50) rotate(-90)" font-size="8.6" text-anchor="middle">-4</text>
<line x1="9" y1="219.50" x2="12.5" y2="219.50" stroke="#000" stroke-width="1"/>
<text transform="translate(7.1,220.40) rotate(-90)" font-size="8.6" text-anchor="middle">-5</text>
<rect x="195.5" y="32.5" width="9" height="188" fill="url(#vg)" stroke="#000" stroke-width="1"/>
<path d="M205.3 32 V221" stroke="#000" stroke-width="0.5" opacity="0.6" fill="none"/>
<line x1="195.5" y1="33.50" x2="207.8" y2="33.50" stroke="#000" stroke-width="1"/>
<text x="210.9" y="35.10" font-size="8.8">160</text>
<line x1="195.5" y1="58.50" x2="207.8" y2="58.50" stroke="#000" stroke-width="1"/>
<text x="210.9" y="60.50" font-size="8.8">140</text>
<line x1="195.5" y1="83.50" x2="207.8" y2="83.50" stroke="#000" stroke-width="1"/>
<text x="210.9" y="85.70" font-size="8.8">120</text>
<line x1="195.5" y1="108.50" x2="207.8" y2="108.50" stroke="#000" stroke-width="1"/>
<text x="210.9" y="111.00" font-size="8.8">100</text>
<line x1="195.5" y1="134.50" x2="207.8" y2="134.50" stroke="#000" stroke-width="1"/>
<text x="210.9" y="136.30" font-size="8.8">80</text>
<line x1="195.5" y1="159.50" x2="207.8" y2="159.50" stroke="#000" stroke-width="1"/>
<text x="210.9" y="161.70" font-size="8.8">60</text>
<line x1="195.5" y1="184.50" x2="207.8" y2="184.50" stroke="#000" stroke-width="1"/>
<text x="210.9" y="187.00" font-size="8.8">40</text>
<line x1="195.5" y1="210.50" x2="207.8" y2="210.50" stroke="#000" stroke-width="1"/>
<text x="210.9" y="212.30" font-size="8.8">20</text>
</g>
</svg></body></html>
